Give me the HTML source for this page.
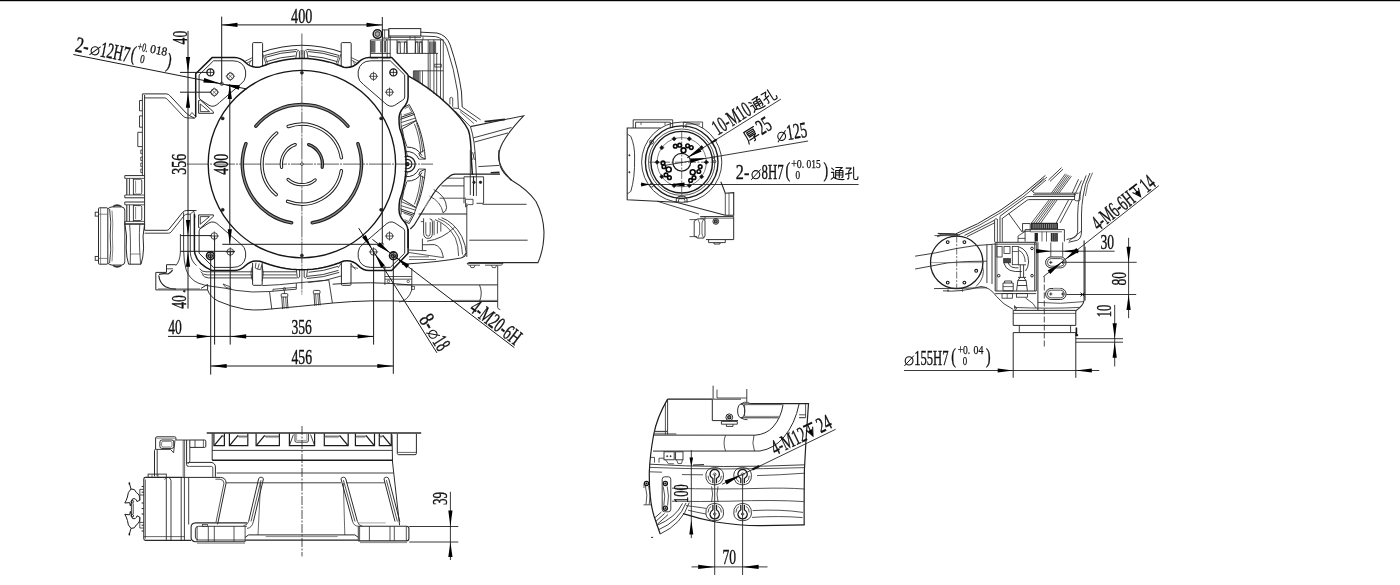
<!DOCTYPE html>
<html><head><meta charset="utf-8"><title>Mounting dimensions</title>
<style>html,body{margin:0;padding:0;background:#fff;}body{width:1400px;height:585px;overflow:hidden;font-family:"Liberation Serif",serif;}svg{display:block;filter:grayscale(1)}</style>
</head><body>
<svg width="1400" height="585" viewBox="0 0 1400 585" shape-rendering="geometricPrecision">
<rect x="0" y="0" width="1400" height="585" fill="#fff"/>
<rect x="0" y="0" width="1400" height="1.2" fill="#000"/>
<defs>
<path id="g_tong" d="M8 12 L22 24 M6 40 L22 40 L22 72 M22 72 Q12 82 4 86 M22 72 Q40 90 96 88 M38 8 L84 8 L66 22 M36 28 L36 74 M36 28 L88 28 L88 68 Q88 74 80 74 M36 43 L88 43 M36 58 L88 58 M62 28 L62 74" fill="none" stroke="#111" stroke-width="8" stroke-linecap="round" stroke-linejoin="round"/>
<path id="g_kong" d="M8 12 L46 12 Q38 24 28 32 M28 32 L28 78 Q28 86 18 84 M4 52 L50 44 M64 6 L64 76 Q64 88 76 88 L88 88 Q96 88 96 70" fill="none" stroke="#111" stroke-width="8" stroke-linecap="round" stroke-linejoin="round"/>
<path id="g_hou" d="M12 8 L94 8 M12 8 L12 50 Q12 76 2 92 M28 20 L82 20 L82 44 L28 44 Z M28 32 L82 32 M30 54 L80 54 Q70 64 58 68 M20 72 L96 72 M58 66 L58 86 Q58 94 46 92" fill="none" stroke="#111" stroke-width="8" stroke-linecap="round" stroke-linejoin="round"/>
</defs>
<path d="M142.4 93.9 L142.4 175.6" fill="none" stroke="#2a2a2a" stroke-width="0.9"/>
<path d="M144.6 95 L144.6 230.2" fill="none" stroke="#2a2a2a" stroke-width="1"/>
<path d="M142.4 93.9 L166.5 93.9 Q168.5 94 169.8 95.6 L186.3 113.2 Q187.8 114.6 189.5 115.6 L194.5 118.2 L195.7 116.8" fill="none" stroke="#2a2a2a" stroke-width="1" stroke-linejoin="round"/>
<path d="M144.6 97.9 L164.8 97.9 Q166.2 98 167.2 99.2 L183.2 116.2 Q184.8 117.8 187 117.9 L194.5 118.2" fill="none" stroke="#2a2a2a" stroke-width="0.9" stroke-linejoin="round"/>
<path d="M189.5 115.6 L192 112.5 L195.7 116.8" fill="none" stroke="#2a2a2a" stroke-width="0.8"/>
<path d="M144.6 230.3 L166.8 230.3 Q168.2 230.2 169.2 229 L182.6 212.4 Q184.3 210.5 186.8 210.5 L196.8 210.5" fill="none" stroke="#2a2a2a" stroke-width="1" stroke-linejoin="round"/>
<path d="M144.6 233.2 L168.6 233.2 Q170.2 233.1 171.2 231.9 L184.2 215.6 Q185.4 214.2 187 214.2 L190 214.2" fill="none" stroke="#2a2a2a" stroke-width="0.9" stroke-linejoin="round"/>
<path d="M190.2 214 L193.8 211.2 L195.2 217.5" fill="none" stroke="#2a2a2a" stroke-width="0.8"/>
<path d="M142.4 100.5 L139.5 100.5 L139.5 110.8 L142.4 110.8" fill="none" stroke="#2a2a2a" stroke-width="0.9"/>
<path d="M142.4 115.9 L139.5 115.9 L139.5 127.2 L142.4 127.2" fill="none" stroke="#2a2a2a" stroke-width="0.9"/>
<path d="M142.4 132.3 L137.8 132.3 L137.8 146.6 L142.4 146.6" fill="none" stroke="#2a2a2a" stroke-width="0.9"/>
<path d="M142.4 150 L140.8 150 L140.8 153.6 L142.4 153.6" fill="none" stroke="#2a2a2a" stroke-width="0.8"/>
<path d="M142.4 157 L140.8 157 L140.8 160.6 L142.4 160.6" fill="none" stroke="#2a2a2a" stroke-width="0.8"/>
<path d="M142.4 163 L140.8 163 L140.8 166.6 L142.4 166.6" fill="none" stroke="#2a2a2a" stroke-width="0.8"/>
<path d="M142.4 169 L140.8 169 L140.8 172.6 L142.4 172.6" fill="none" stroke="#2a2a2a" stroke-width="0.8"/>
<path d="M124.8 175.6 L144.6 175.6" fill="none" stroke="#2a2a2a" stroke-width="1"/>
<path d="M124.8 197.8 L144.6 197.8" fill="none" stroke="#2a2a2a" stroke-width="1"/>
<path d="M124.8 175.6 L124.8 178.4" fill="none" stroke="#2a2a2a" stroke-width="0.9"/>
<path d="M124.8 197.8 L124.8 195" fill="none" stroke="#2a2a2a" stroke-width="0.9"/>
<path d="M124.8 178.4 L144.6 178.4" fill="none" stroke="#2a2a2a" stroke-width="0.8"/>
<path d="M124.8 195 L144.6 195" fill="none" stroke="#2a2a2a" stroke-width="0.8"/>
<path d="M126.8 178.4 L126.8 195" fill="none" stroke="#2a2a2a" stroke-width="1.1"/>
<path d="M129.4 178.4 L129.4 195" fill="none" stroke="#2a2a2a" stroke-width="0.9"/>
<path d="M133.4 178.4 L133.4 195 M133.4 179.2 L140.4 179.2 Q141.8 179.4 141.8 181 L141.8 192.4 Q141.8 194 140.4 194.2 L133.4 194.2" fill="none" stroke="#2a2a2a" stroke-width="0.9"/>
<path d="M135.6 180.6 L135.6 192.8" fill="none" stroke="#555" stroke-width="0.7"/>
<path d="M124.8 202 L144.6 202" fill="none" stroke="#2a2a2a" stroke-width="1"/>
<path d="M124.8 224.2 L144.6 224.2" fill="none" stroke="#2a2a2a" stroke-width="1"/>
<path d="M124.8 202 L124.8 204.8" fill="none" stroke="#2a2a2a" stroke-width="0.9"/>
<path d="M124.8 224.2 L124.8 221.4" fill="none" stroke="#2a2a2a" stroke-width="0.9"/>
<path d="M124.8 204.8 L144.6 204.8" fill="none" stroke="#2a2a2a" stroke-width="0.8"/>
<path d="M124.8 221.4 L144.6 221.4" fill="none" stroke="#2a2a2a" stroke-width="0.8"/>
<path d="M126.8 204.8 L126.8 221.4" fill="none" stroke="#2a2a2a" stroke-width="1.1"/>
<path d="M129.4 204.8 L129.4 221.4" fill="none" stroke="#2a2a2a" stroke-width="0.9"/>
<path d="M133.4 204.8 L133.4 221.4 M133.4 205.6 L140.4 205.6 Q141.8 205.8 141.8 207.4 L141.8 218.8 Q141.8 220.4 140.4 220.6 L133.4 220.6" fill="none" stroke="#2a2a2a" stroke-width="0.9"/>
<path d="M135.6 207 L135.6 219.2" fill="none" stroke="#555" stroke-width="0.7"/>
<rect x="98.5" y="207.8" width="9.3" height="56.4" rx="1" fill="none" stroke="#2a2a2a" stroke-width="1"/>
<path d="M100.6 207.8 L100.6 264.2" fill="none" stroke="#555" stroke-width="0.7"/>
<rect x="95.2" y="212.2" width="3.3" height="3.9" rx="0" fill="none" stroke="#2a2a2a" stroke-width="0.9"/>
<rect x="95.2" y="256.4" width="3.3" height="3.9" rx="0" fill="none" stroke="#2a2a2a" stroke-width="0.9"/>
<path d="M98.5 214.2 L107.8 214.2" fill="none" stroke="#555" stroke-width="0.7"/>
<path d="M98.5 258.4 L107.8 258.4" fill="none" stroke="#555" stroke-width="0.7"/>
<path d="M107.8 208.8 Q110 207 112 206.9 L121.5 206.9 Q124.6 207.2 124.8 210 M107.8 263.2 Q110 265 112 265.1 L121.5 265.1 Q124.6 264.8 124.8 262" fill="none" stroke="#2a2a2a" stroke-width="1"/>
<path d="M109.6 209 Q111.6 222 110.2 236 Q111.6 250 109.6 263" fill="none" stroke="#2a2a2a" stroke-width="0.9"/>
<path d="M112 210.6 Q113.4 224 112.4 236 Q113.4 249 112 261.4" fill="none" stroke="#555" stroke-width="0.7"/>
<path d="M124.8 210 L124.8 262" fill="none" stroke="#2a2a2a" stroke-width="0.9"/>
<path d="M113 206.6 Q117 203.6 121.5 206.6" fill="none" stroke="#333" stroke-width="1.6"/>
<path d="M113 265.4 Q117 268.4 121.5 265.4" fill="none" stroke="#333" stroke-width="1.6"/>
<path d="M124.8 223.8 Q127.6 236 126.2 248 Q126.4 258 128.6 264.2 L141 264.2 Q143.2 258 143.6 248 Q142 236 144.6 224.2" fill="none" stroke="#2a2a2a" stroke-width="1"/>
<path d="M129.6 224.2 Q131 240 130.2 264.2 M139.8 224.2 Q138.6 240 140.6 264.2" fill="none" stroke="#2a2a2a" stroke-width="0.8"/>
<path d="M130.2 254 L140.4 254" fill="none" stroke="#555" stroke-width="0.7"/>
<path d="M124.8 223.8 L144.6 223.8" fill="none" stroke="#2a2a2a" stroke-width="0.9"/>
<path d="M190.3 214 L190.3 253 Q191 261 196.5 265.6" fill="none" stroke="#2a2a2a" stroke-width="0.9"/>
<path d="M196.3 120 L196.3 214" fill="none" stroke="#fff" stroke-width="0.5"/>
<circle cx="377.5" cy="34.1" r="4.3" fill="none" stroke="#1c1c1c" stroke-width="1.6"/>
<circle cx="377.5" cy="34.1" r="2.4" fill="#a8a8a8" stroke="#555" stroke-width="1.2"/>
<rect x="382.6" y="29.9" width="6.2" height="8.2" rx="0" fill="none" stroke="#2a2a2a" stroke-width="0.9"/>
<path d="M384.6 29.9 L384.6 38.1" fill="none" stroke="#2a2a2a" stroke-width="0.7"/>
<rect x="388.8" y="28.6" width="32" height="7.4" rx="0" fill="none" stroke="#2a2a2a" stroke-width="1"/>
<path d="M388.8 37.4 L421 37.4" fill="none" stroke="#2a2a2a" stroke-width="0.8"/>
<path d="M386 39.8 L443.3 39.8" fill="none" stroke="#2a2a2a" stroke-width="0.9"/>
<path d="M410 36 L410 39.8" fill="none" stroke="#2a2a2a" stroke-width="0.7"/>
<path d="M415 36 L415 39.8" fill="none" stroke="#2a2a2a" stroke-width="0.7"/>
<path d="M423 36.3 L423 39.8" fill="none" stroke="#2a2a2a" stroke-width="0.7"/>
<path d="M370.4 40 L387 40" fill="none" stroke="#2a2a2a" stroke-width="0.9"/>
<path d="M370.4 40 L370.4 58" fill="none" stroke="#2a2a2a" stroke-width="0.9"/>
<path d="M370.4 53.4 L390.2 53.4" fill="none" stroke="#2a2a2a" stroke-width="0.9"/>
<path d="M397 53.4 L438 53.4" fill="none" stroke="#2a2a2a" stroke-width="0.9"/>
<path d="M390.2 36 L390.2 58" fill="none" stroke="#2a2a2a" stroke-width="0.9"/>
<path d="M397 39.8 L397 53.4" fill="none" stroke="#2a2a2a" stroke-width="0.9"/>
<path d="M387.2 39.8 L387.2 58" fill="none" stroke="#2a2a2a" stroke-width="0.8"/>
<path d="M371.3 41 L371.3 52.5" fill="none" stroke="#222" stroke-width="0.8"/>
<path d="M372.2 41 L372.2 52.5" fill="none" stroke="#222" stroke-width="0.8"/>
<path d="M373.1 41 L373.1 52.5" fill="none" stroke="#222" stroke-width="0.8"/>
<path d="M374 41 L374 52.5" fill="none" stroke="#222" stroke-width="0.8"/>
<path d="M374.9 41 L374.9 52.5" fill="none" stroke="#222" stroke-width="0.8"/>
<path d="M380.8 41 L380.8 52.5" fill="none" stroke="#222" stroke-width="0.8"/>
<path d="M382 41 L382 52.5" fill="none" stroke="#222" stroke-width="0.8"/>
<path d="M384.3 41 L384.3 52.5" fill="none" stroke="#222" stroke-width="0.8"/>
<path d="M385.5 41 L385.5 52.5" fill="none" stroke="#222" stroke-width="0.8"/>
<path d="M397.6 53.4 L397.9 42 L400.1 42 L400.4 53.4" fill="none" stroke="#2a2a2a" stroke-width="0.9"/>
<path d="M404.2 53.4 L404.5 42 L406.7 42 L407 53.4" fill="none" stroke="#2a2a2a" stroke-width="0.9"/>
<path d="M415.3 53.4 L415.6 42 L417.8 42 L418.1 53.4" fill="none" stroke="#2a2a2a" stroke-width="0.9"/>
<path d="M419.4 53.4 L419.7 42 L421.9 42 L422.2 53.4" fill="none" stroke="#2a2a2a" stroke-width="0.9"/>
<path d="M397 42 L407 42" fill="none" stroke="#2a2a2a" stroke-width="0.7"/>
<path d="M415.3 42 L422.2 42" fill="none" stroke="#2a2a2a" stroke-width="0.7"/>
<path d="M407 39.8 L407 53.4" fill="none" stroke="#2a2a2a" stroke-width="0.9"/>
<path d="M415.3 39.8 L415.3 53.4" fill="none" stroke="#2a2a2a" stroke-width="0.8"/>
<path d="M422.2 39.8 L422.2 53.4" fill="none" stroke="#2a2a2a" stroke-width="0.9"/>
<path d="M429.6 41.5 L429.6 53" fill="none" stroke="#222" stroke-width="0.8"/>
<path d="M430.8 41.5 L430.8 53" fill="none" stroke="#222" stroke-width="0.8"/>
<path d="M432 41.5 L432 53" fill="none" stroke="#222" stroke-width="0.8"/>
<path d="M433.2 41.5 L433.2 53" fill="none" stroke="#222" stroke-width="0.8"/>
<path d="M434.4 41.5 L434.4 53" fill="none" stroke="#222" stroke-width="0.8"/>
<path d="M435.6 41.5 L435.6 53" fill="none" stroke="#222" stroke-width="0.8"/>
<path d="M428.2 39.8 L428.2 89.5" fill="none" stroke="#2a2a2a" stroke-width="0.8"/>
<path d="M430.1 53.4 L430.1 91" fill="none" stroke="#2a2a2a" stroke-width="0.8"/>
<path d="M433.9 39.8 L433.9 94" fill="none" stroke="#2a2a2a" stroke-width="0.8"/>
<path d="M436.7 53.4 L436.7 96" fill="none" stroke="#2a2a2a" stroke-width="0.8"/>
<path d="M440.5 39.8 L440.5 99" fill="none" stroke="#2a2a2a" stroke-width="0.8"/>
<path d="M443.3 39.8 L443.3 101.3" fill="none" stroke="#2a2a2a" stroke-width="0.8"/>
<path d="M413.2 70.8 L443.3 70.8" fill="none" stroke="#2a2a2a" stroke-width="0.8"/>
<rect x="434.8" y="64.2" width="6.4" height="2.8" rx="0" fill="none" stroke="#2a2a2a" stroke-width="0.8"/>
<path d="M413.4 71 L413.4 78.5" fill="none" stroke="#222" stroke-width="0.8"/>
<path d="M414.3 71 L414.3 79.2" fill="none" stroke="#222" stroke-width="0.8"/>
<path d="M415.2 71 L415.2 79.8" fill="none" stroke="#222" stroke-width="0.8"/>
<path d="M416.1 71 L416.1 80.5" fill="none" stroke="#222" stroke-width="0.8"/>
<path d="M417 71 L417 81.1" fill="none" stroke="#222" stroke-width="0.8"/>
<path d="M417.9 71 L417.9 81.8" fill="none" stroke="#222" stroke-width="0.8"/>
<path d="M418.8 71 L418.8 82.4" fill="none" stroke="#222" stroke-width="0.8"/>
<path d="M420 70.8 L420 83.6" fill="none" stroke="#2a2a2a" stroke-width="0.7"/>
<path d="M422.5 70.8 L422.5 85.4" fill="none" stroke="#2a2a2a" stroke-width="0.7"/>
<path d="M370.4 58 L378 58" fill="none" stroke="#2a2a2a" stroke-width="0.8"/>
<path d="M383 58 L390.5 58" fill="none" stroke="#2a2a2a" stroke-width="0.8"/>
<path d="M420.8 32.2 L437 33 Q446.5 35 450.2 45 Q458.5 70 461.5 92 L462.2 107" fill="none" stroke="#2a2a2a" stroke-width="1"/>
<path d="M420.8 36 L435.5 36.6 Q443.5 38 446.6 46.5 Q454.5 70 457.6 92 L458.4 108.5" fill="none" stroke="#2a2a2a" stroke-width="0.9"/>
<path d="M408.2 75.8 Q431 88 449 105.8 Q463 119.5 468.3 130 Q471 137 471.3 158.5 L472.4 175" fill="none" stroke="#1c1c1c" stroke-width="1.5"/>
<path d="M470.5 126.8 Q475 140 475.8 165 L476.4 176" fill="none" stroke="#2a2a2a" stroke-width="0.9"/>
<path d="M449.9 104.5 L449.9 98 Q451.3 96.6 452.7 98 L452.7 106.8" fill="none" stroke="#2a2a2a" stroke-width="0.8"/>
<path d="M458.4 108.5 L477 121.5" fill="none" stroke="#2a2a2a" stroke-width="0.9"/>
<path d="M462.2 107 L480.6 119.8" fill="none" stroke="#2a2a2a" stroke-width="0.9"/>
<path d="M455 110.8 L470.4 126.6" fill="none" stroke="#2a2a2a" stroke-width="0.9"/>
<path d="M460 111.5 L474 123.6" fill="none" stroke="#2a2a2a" stroke-width="0.7"/>
<path d="M452.8 108 L458.4 108.5" fill="none" stroke="#2a2a2a" stroke-width="0.8"/>
<path d="M470.4 126.6 L523.6 115.8 Q509 131 502.5 143 Q497.5 153 498.9 160 Q500.5 169 511.5 180.5" fill="none" stroke="#2a2a2a" stroke-width="1.1"/>
<path d="M473.3 137.9 L511.5 127.5" fill="none" stroke="#2a2a2a" stroke-width="0.9"/>
<path d="M474.3 142.1 L508 132.9" fill="none" stroke="#2a2a2a" stroke-width="0.9"/>
<path d="M484.6 121.6 L505 119.4" fill="none" stroke="#222" stroke-width="1.8"/>
<path d="M478.4 166.6 L499.2 165.4" fill="none" stroke="#2a2a2a" stroke-width="0.9"/>
<path d="M490.7 172.8 L499.5 172.4" fill="none" stroke="#222" stroke-width="1.6"/>
<path d="M472.2 152 L473.6 156 L472.6 160 M474.6 152 L473.4 156 L474.8 160" fill="none" stroke="#2a2a2a" stroke-width="0.7"/>
<path d="M499 150 Q498.5 160 500.4 166.5 Q503 173.5 512 180.5 Q528 190 536 201.5 Q543.5 216 544 232 Q544 249 538 262.6 L468.4 262.6" fill="none" stroke="#2a2a2a" stroke-width="1.1"/>
<path d="M482.5 204.3 L526.6 204.3" fill="none" stroke="#2a2a2a" stroke-width="0.9"/>
<path d="M469.2 240.2 L527.6 240.2" fill="none" stroke="#2a2a2a" stroke-width="0.9"/>
<path d="M500 174.2 L455 174.2 Q452 174.4 450 176 L443.2 181.9 Q437 188 433.8 193.2 Q428 202 424.4 208.2 L414.1 225.2 L410.3 229" fill="none" stroke="#222" stroke-width="1.2"/>
<path d="M446.5 178.2 L464 178.2" fill="none" stroke="#2a2a2a" stroke-width="0.8"/>
<path d="M441.5 185.9 L464 185.9" fill="none" stroke="#2a2a2a" stroke-width="0.9"/>
<path d="M439.5 198.2 L466 198.2" fill="none" stroke="#2a2a2a" stroke-width="0.8"/>
<path d="M464 176.8 L464 203.3 M483.6 176.8 L483.6 203.3 L476.5 203.3" fill="none" stroke="#2a2a2a" stroke-width="0.9"/>
<path d="M464 176.8 L483.6 176.8" fill="none" stroke="#2a2a2a" stroke-width="0.9"/>
<circle cx="474" cy="182.3" r="1.2" fill="#222" stroke="#222" stroke-width="0.8"/>
<circle cx="480.5" cy="182.3" r="1.2" fill="#222" stroke="#222" stroke-width="0.8"/>
<path d="M470.3 150 L470.3 195" fill="none" stroke="#2a2a2a" stroke-width="0.9"/>
<path d="M473.5 176 L473.5 196" fill="none" stroke="#222" stroke-width="1.1"/>
<path d="M476.4 176 L476.4 196" fill="none" stroke="#2a2a2a" stroke-width="0.8"/>
<path d="M465.5 199.3 L473 199.3 L473 204.6 L468.2 204.6 L465.5 207 Z" fill="none" stroke="#2a2a2a" stroke-width="0.8"/>
<path d="M466.8 203.3 L466.8 257" fill="none" stroke="#2a2a2a" stroke-width="0.9"/>
<path d="M418.6 214 L466.8 214" fill="none" stroke="#222" stroke-width="1.2"/>
<path d="M441.5 217.7 Q454 222 461.8 236.5 Q466 246 466.2 253 Q466 257 462 257.8" fill="none" stroke="#2a2a2a" stroke-width="0.9"/>
<path d="M438 218.6 Q451 223 458.6 237 Q462.5 246 462.5 254.5" fill="none" stroke="#2a2a2a" stroke-width="0.8"/>
<path d="M435 219.6 Q448 224.5 455.4 238 Q458.6 246 458.6 256" fill="none" stroke="#2a2a2a" stroke-width="0.8"/>
<path d="M423.6 218.3 L423.6 233.6 Q424.1 238.4 428.1 238.4 Q432.1 238.4 432.4 233.6 L432.4 221.6 Q432.4 219.0 429.6 218.8" fill="none" stroke="#2a2a2a" stroke-width="0.9"/>
<path d="M425.8 222.2 L425.8 233.6 Q426.2 236.2 428.1 236.2 Q430.2 236.2 430.2 233.6 L430.2 222.2" fill="none" stroke="#2a2a2a" stroke-width="0.8"/>
<path d="M434.1 220.6 L434.1 235.2" fill="none" stroke="#2a2a2a" stroke-width="0.8"/>
<path d="M437.4 221.6 L437.4 233.6" fill="none" stroke="#2a2a2a" stroke-width="0.8"/>
<path d="M440.8 223 L440.8 231.6" fill="none" stroke="#2a2a2a" stroke-width="0.8"/>
<path d="M427.1 241.2 Q442.6 239.1 454.6 227.2" fill="none" stroke="#2a2a2a" stroke-width="0.9"/>
<path d="M420.8 221.6 L423.6 221.6" fill="none" stroke="#2a2a2a" stroke-width="0.8"/>
<path d="M422.4 238.6 L422.4 250.6 L426.5 250.6 M422.4 244.8 L434.5 244.6 Q440.8 246.5 442.6 254.2 L443.4 257.6" fill="none" stroke="#2a2a2a" stroke-width="0.9"/>
<path d="M408.8 252.5 L443.4 257.6 M409 250 L422.4 250.6" fill="none" stroke="#2a2a2a" stroke-width="0.8"/>
<path d="M402 264.3 Q440 262 462 257.8 L466.2 253" fill="none" stroke="#2a2a2a" stroke-width="1"/>
<path d="M409 256.8 L429 256.8" fill="none" stroke="#2a2a2a" stroke-width="0.7"/>
<path d="M409 259.5 L436 259.5" fill="none" stroke="#2a2a2a" stroke-width="0.7"/>
<path d="M433.6 189.5 Q446 196 446.6 207.6 Q446.4 211.6 443 212.8" fill="none" stroke="#2a2a2a" stroke-width="0.9"/>
<path d="M429.6 196.2 Q441 201.5 443 212.8" fill="none" stroke="#2a2a2a" stroke-width="0.8"/>
<path d="M424.4 208.5 Q429 201 433.6 189.5" fill="none" stroke="#fff" stroke-width="0.5"/>
<path d="M252.6 66.2 L252.6 43.6 Q252.6 42.6 253.6 42.6 L261.6 42.6 Q262.6 42.6 262.6 43.6 L262.6 66.4" fill="#fff" stroke="#2a2a2a" stroke-width="1"/>
<path d="M341.2 66.2 L341.2 43.6 Q341.2 42.6 342.2 42.6 L350.2 42.6 Q351.2 42.6 351.2 43.6 L351.2 66.4" fill="#fff" stroke="#2a2a2a" stroke-width="1"/>
<path d="M262.8 52.1 A118.6 118.6 0 0 1 341 52.1" fill="none" stroke="#2a2a2a" stroke-width="1.1"/>
<path d="M264.9 55.4 A114.8 114.8 0 0 1 297.3 49.4" fill="none" stroke="#2a2a2a" stroke-width="0.9"/>
<path d="M265.9 57.2 A112.8 112.8 0 0 1 296 51.5" fill="none" stroke="#2a2a2a" stroke-width="0.9"/>
<path d="M266.3 61.7 A108.4 108.4 0 0 1 295.3 55.9" fill="none" stroke="#2a2a2a" stroke-width="0.9"/>
<path d="M295.7 58.9 L296.9 51.5 L298.2 50.3 L299.4 51.2 L299.4 58.9" fill="none" stroke="#2a2a2a" stroke-width="0.9"/>
<path d="M262.8 54 L266.5 65.5" fill="none" stroke="#2a2a2a" stroke-width="0.8"/>
<path d="M264.6 55 L267.6 63.5" fill="none" stroke="#2a2a2a" stroke-width="0.7"/>
<path d="M244.5 61.5 L252.6 57.5" fill="none" stroke="#2a2a2a" stroke-width="0.8"/>
<path d="M247 63 L252.6 60" fill="none" stroke="#2a2a2a" stroke-width="0.7"/>
<path d="M249.2 64.8 L250.5 60.8" fill="none" stroke="#2a2a2a" stroke-width="0.7"/>
<path d="M338.9 55.4 A114.8 114.8 0 0 0 306.5 49.4" fill="none" stroke="#2a2a2a" stroke-width="0.9"/>
<path d="M337.9 57.2 A112.8 112.8 0 0 0 307.8 51.5" fill="none" stroke="#2a2a2a" stroke-width="0.9"/>
<path d="M337.5 61.7 A108.4 108.4 0 0 0 308.5 55.9" fill="none" stroke="#2a2a2a" stroke-width="0.9"/>
<path d="M308.1 58.9 L306.9 51.5 L305.6 50.3 L304.4 51.2 L304.4 58.9" fill="none" stroke="#2a2a2a" stroke-width="0.9"/>
<path d="M341 54 L337.3 65.5" fill="none" stroke="#2a2a2a" stroke-width="0.8"/>
<path d="M339.2 55 L336.2 63.5" fill="none" stroke="#2a2a2a" stroke-width="0.7"/>
<path d="M359.3 61.5 L351.2 57.5" fill="none" stroke="#2a2a2a" stroke-width="0.8"/>
<path d="M356.8 63 L351.2 60" fill="none" stroke="#2a2a2a" stroke-width="0.7"/>
<path d="M354.6 64.8 L353.3 60.8" fill="none" stroke="#2a2a2a" stroke-width="0.7"/>
<rect x="300.5" y="50" width="3.2" height="9" rx="0" fill="#9a9a9a" stroke="#161616" stroke-width="0"/>
<path d="M401.2 113.5 Q400.2 124 402.4 134 Q405 146 407.4 156" fill="none" stroke="#2a2a2a" stroke-width="0.8"/>
<path d="M402.8 107.8 L409.2 104.6 L413.7 112.9 L400.9 117.4" fill="none" stroke="#2a2a2a" stroke-width="1" stroke-linejoin="round"/>
<path d="M404.6 108.6 L408.6 106.6 L411.8 112.2 L403.6 115" fill="none" stroke="#2a2a2a" stroke-width="0.7" stroke-linejoin="round"/>
<path d="M400.3 119.4 L415 114.2" fill="none" stroke="#2a2a2a" stroke-width="1"/>
<path d="M400.9 122.6 L415.6 118" fill="none" stroke="#2a2a2a" stroke-width="0.8"/>
<path d="M401.5 126.4 L416.2 120.4" fill="none" stroke="#2a2a2a" stroke-width="0.8"/>
<path d="M413.7 112.9 L416.3 120.6" fill="none" stroke="#2a2a2a" stroke-width="0.9"/>
<path d="M402.2 129 L416.3 120.6 Q422 133 424.6 151.4 L425.3 159.1 L420.1 156.5 L418.8 153.3" fill="none" stroke="#2a2a2a" stroke-width="1" stroke-linejoin="round"/>
<path d="M414.4 123.8 Q419.5 136 420.8 152.7 M416.4 122.6 Q421 135 422.8 152.4" fill="none" stroke="#2a2a2a" stroke-width="0.8"/>
<path d="M402.2 129 Q403.5 138 406.7 146.3" fill="none" stroke="#2a2a2a" stroke-width="0.9"/>
<path d="M418.8 153.3 L424.4 150.4" fill="none" stroke="#2a2a2a" stroke-width="0.8"/>
<path d="M406.7 147.1 A17 17 0 0 1 422 155.6" fill="none" stroke="#2a2a2a" stroke-width="1"/>
<path d="M405.1 151.7 A12.6 12.6 0 0 1 419 159.4" fill="none" stroke="#2a2a2a" stroke-width="1"/>
<path d="M404.6 156.8 A7.8 7.8 0 0 1 415.1 164.1" fill="none" stroke="#222" stroke-width="1.3"/>
<path d="M405 160.1 A4.6 4.6 0 0 1 411.9 164.1" fill="none" stroke="#222" stroke-width="1.2"/>
<path d="M419.2 159.2 L425.3 159.1" fill="none" stroke="#2a2a2a" stroke-width="0.8"/>
<path d="M401.2 214.7 Q400.2 204.2 402.4 194.2 Q405 182.2 407.4 172.2" fill="none" stroke="#2a2a2a" stroke-width="0.8"/>
<path d="M402.8 220.4 L409.2 223.6 L413.7 215.3 L400.9 210.8" fill="none" stroke="#2a2a2a" stroke-width="1" stroke-linejoin="round"/>
<path d="M404.6 219.6 L408.6 221.6 L411.8 216 L403.6 213.2" fill="none" stroke="#2a2a2a" stroke-width="0.7" stroke-linejoin="round"/>
<path d="M400.3 208.8 L415 214" fill="none" stroke="#2a2a2a" stroke-width="1"/>
<path d="M400.9 205.6 L415.6 210.2" fill="none" stroke="#2a2a2a" stroke-width="0.8"/>
<path d="M401.5 201.8 L416.2 207.8" fill="none" stroke="#2a2a2a" stroke-width="0.8"/>
<path d="M413.7 215.3 L416.3 207.6" fill="none" stroke="#2a2a2a" stroke-width="0.9"/>
<path d="M402.2 199.2 L416.3 207.6 Q422 195.2 424.6 176.8 L425.3 169.1 L420.1 171.7 L418.8 174.9" fill="none" stroke="#2a2a2a" stroke-width="1" stroke-linejoin="round"/>
<path d="M414.4 204.4 Q419.5 192.2 420.8 175.5 M416.4 205.6 Q421 193.2 422.8 175.8" fill="none" stroke="#2a2a2a" stroke-width="0.8"/>
<path d="M402.2 199.2 Q403.5 190.2 406.7 181.9" fill="none" stroke="#2a2a2a" stroke-width="0.9"/>
<path d="M418.8 174.9 L424.4 177.8" fill="none" stroke="#2a2a2a" stroke-width="0.8"/>
<path d="M406.7 181.1 A17 17 0 0 0 422 172.6" fill="none" stroke="#2a2a2a" stroke-width="1"/>
<path d="M405.1 176.5 A12.6 12.6 0 0 0 419 168.8" fill="none" stroke="#2a2a2a" stroke-width="1"/>
<path d="M404.6 171.4 A7.8 7.8 0 0 0 415.1 164.1" fill="none" stroke="#222" stroke-width="1.3"/>
<path d="M405 168.1 A4.6 4.6 0 0 0 411.9 164.1" fill="none" stroke="#222" stroke-width="1.2"/>
<path d="M419.2 169 L425.3 169.1" fill="none" stroke="#2a2a2a" stroke-width="0.8"/>
<circle cx="407.3" cy="164.1" r="1.6" fill="#444" stroke="#111" stroke-width="1.2"/>
<path d="M252.6 263 L252.6 284.3 Q252.6 285.3 253.6 285.3 L261.2 285.3 Q262.2 285.3 262.2 284.3 L262.2 263" fill="#fff" stroke="#2a2a2a" stroke-width="1"/>
<path d="M341.4 263 L341.4 284.3 Q341.4 285.3 342.4 285.3 L350 285.3 Q351 285.3 351 284.3 L351 263" fill="#fff" stroke="#2a2a2a" stroke-width="1"/>
<path d="M341.5 275.9 A118.6 118.6 0 0 1 308.1 282.5" fill="none" stroke="#2a2a2a" stroke-width="0.9"/>
<path d="M339.2 272.4 A114.5 114.5 0 0 1 306.9 278.5" fill="none" stroke="#2a2a2a" stroke-width="0.9"/>
<path d="M338.5 270.4 A112.4 112.4 0 0 1 306.8 276.4" fill="none" stroke="#2a2a2a" stroke-width="0.9"/>
<path d="M338.1 266.3 A108.4 108.4 0 0 1 308.5 272.3" fill="none" stroke="#2a2a2a" stroke-width="0.9"/>
<path d="M296.3 269.5 L297.2 276.5 L298.4 278 L299.6 277 L299.6 269.5" fill="none" stroke="#2a2a2a" stroke-width="0.9"/>
<path d="M307.5 269.5 L306.6 276.5 L305.4 278 L304.2 277 L304.2 269.5" fill="none" stroke="#2a2a2a" stroke-width="0.9"/>
<path d="M199.6 268.6 Q201.5 271.8 206 271.8 L252.6 271.8" fill="none" stroke="#2a2a2a" stroke-width="0.9"/>
<path d="M262.2 271.8 L296.3 271.8" fill="none" stroke="#2a2a2a" stroke-width="0.9"/>
<path d="M200.6 271.6 Q203 274.9 207 274.9 L252.6 274.9" fill="none" stroke="#2a2a2a" stroke-width="0.8"/>
<path d="M262.2 274.9 L296.3 274.9" fill="none" stroke="#2a2a2a" stroke-width="0.8"/>
<path d="M201.8 274.2 Q204.5 277.9 208.5 277.9 L252.6 277.9" fill="none" stroke="#2a2a2a" stroke-width="0.9"/>
<path d="M262.2 277.9 L297.5 277.9" fill="none" stroke="#2a2a2a" stroke-width="0.9"/>
<path d="M252.6 266 Q249.5 273 252.6 281" fill="none" stroke="#2a2a2a" stroke-width="0.9"/>
<path d="M262.2 266 Q264.5 273 262.2 281" fill="none" stroke="#2a2a2a" stroke-width="0.8"/>
<path d="M256 262.6 L255.2 268 L257.6 269.2 L259.3 263.5" fill="none" stroke="#2a2a2a" stroke-width="0.8"/>
<path d="M257.6 269.2 L260.6 269.6 L261.8 264.4" fill="none" stroke="#2a2a2a" stroke-width="0.8"/>
<path d="M338 268 L341.4 263" fill="none" stroke="#2a2a2a" stroke-width="0.8"/>
<path d="M351 264 L355.5 269.5" fill="none" stroke="#2a2a2a" stroke-width="0.8"/>
<path d="M351 266.5 L358 268.5" fill="none" stroke="#2a2a2a" stroke-width="0.7"/>
<path d="M207.6 289.9 Q210 297 218 301 Q230 306.5 245 309.3 Q254 310.4 262 309.8 Q300 306.5 333 303 Q370 299.5 410 301.5 L497.7 301.5" fill="none" stroke="#2a2a2a" stroke-width="1"/>
<path d="M451 300.4 L497.7 300.4" fill="none" stroke="#555" stroke-width="0.8"/>
<path d="M183.6 212.4 L183.6 250 Q183.8 262 186.2 270 Q189.5 279 198 283 Q204 285.4 212 286.4 Q226 288 236 290.4 Q252 293 269.5 291.5" fill="none" stroke="#2a2a2a" stroke-width="0.9"/>
<path d="M180.4 234 L180.4 252 Q180 261 175.8 265.6" fill="none" stroke="#2a2a2a" stroke-width="0.9"/>
<path d="M332.6 284.2 Q370 281 410 284.9 L497.7 284.9" fill="none" stroke="#2a2a2a" stroke-width="1"/>
<path d="M262.2 285.6 Q280 285 296.3 283" fill="none" stroke="#2a2a2a" stroke-width="0.9"/>
<path d="M223 284 L229.6 286.6 L231 288.6 L226 287.6 Z" fill="none" stroke="#2a2a2a" stroke-width="0.8"/>
<path d="M269.5 291.5 L296.3 289.2 L296.3 283 L328.8 280 L332.4 303" fill="none" stroke="#2a2a2a" stroke-width="0.9"/>
<path d="M269.5 291.5 L271.8 309.3" fill="none" stroke="#2a2a2a" stroke-width="0.9"/>
<path d="M273 289.3 L273 291.2" fill="none" stroke="#2a2a2a" stroke-width="0.8"/>
<path d="M273 289.3 L296.3 287.3" fill="none" stroke="#2a2a2a" stroke-width="0.8"/>
<rect x="281.2" y="293.6" width="6.6" height="3.4" rx="1" fill="none" stroke="#2a2a2a" stroke-width="0.9"/>
<path d="M281.8 297 L282.6 309.1" fill="none" stroke="#2a2a2a" stroke-width="0.9"/>
<path d="M287.2 297 L288 308.6" fill="none" stroke="#2a2a2a" stroke-width="0.9"/>
<path d="M283.4 297 L284.2 308.9" fill="none" stroke="#2a2a2a" stroke-width="0.7"/>
<path d="M285.6 297 L286.4 308.7" fill="none" stroke="#2a2a2a" stroke-width="0.7"/>
<rect x="313.4" y="290.4" width="6.6" height="3.4" rx="1" fill="none" stroke="#2a2a2a" stroke-width="0.9"/>
<path d="M314 293.8 L314.8 305.9" fill="none" stroke="#2a2a2a" stroke-width="0.9"/>
<path d="M319.4 293.8 L320.2 305.4" fill="none" stroke="#2a2a2a" stroke-width="0.9"/>
<path d="M315.6 293.8 L316.4 305.7" fill="none" stroke="#2a2a2a" stroke-width="0.7"/>
<path d="M317.8 293.8 L318.6 305.5" fill="none" stroke="#2a2a2a" stroke-width="0.7"/>
<circle cx="284.4" cy="288.8" r="1.2" fill="none" stroke="#2a2a2a" stroke-width="0.8"/>
<path d="M284.4 290 L284.4 293.6" fill="none" stroke="#2a2a2a" stroke-width="0.8"/>
<path d="M497.7 265.6 L497.7 307.5" fill="none" stroke="#2a2a2a" stroke-width="0.9"/>
<path d="M497.7 307.5 Q498 309.5 500.3 309.6" fill="none" stroke="#2a2a2a" stroke-width="0.8"/>
<path d="M479.5 284.9 Q483 293 479.5 301.5" fill="none" stroke="#2a2a2a" stroke-width="0.9"/>
<path d="M467 263.3 L503 263.3" fill="none" stroke="#2a2a2a" stroke-width="1"/>
<path d="M467 263.3 L468.5 265.2 L480 265.2" fill="none" stroke="#2a2a2a" stroke-width="0.8"/>
<path d="M485 265.2 L501.5 265.2 L503 263.3" fill="none" stroke="#2a2a2a" stroke-width="0.8"/>
<path d="M470 265.2 L471 267.6 L474 267.6 L475 265.2" fill="none" stroke="#2a2a2a" stroke-width="0.8"/>
<path d="M491.5 265.2 L492.5 267.6 L495.5 267.6 L496.5 265.2" fill="none" stroke="#2a2a2a" stroke-width="0.8"/>
<path d="M384.9 266 L384.9 284.9" fill="none" stroke="#2a2a2a" stroke-width="0.9"/>
<path d="M411.8 268 L411.8 284.9" fill="none" stroke="#2a2a2a" stroke-width="0.9"/>
<path d="M384.9 276.5 L411.8 276.5" fill="none" stroke="#2a2a2a" stroke-width="0.8"/>
<path d="M384.9 279.2 L411.8 279.2" fill="none" stroke="#2a2a2a" stroke-width="0.8"/>
<circle cx="388.5" cy="281.4" r="1.2" fill="none" stroke="#2a2a2a" stroke-width="0.7"/>
<circle cx="408.2" cy="281.4" r="1.2" fill="none" stroke="#2a2a2a" stroke-width="0.7"/>
<path d="M396.5 284.9 L411.8 284.9 L411.8 290 Q408 301 399 302" fill="none" stroke="#2a2a2a" stroke-width="0.9"/>
<rect x="411.5" y="286.3" width="3" height="3" rx="0" fill="none" stroke="#2a2a2a" stroke-width="0.7"/>
<path d="M155.8 272.4 L166.5 272.4 L166.5 264.7 L175.8 264.7 M155.8 272.4 L155.8 289.9 L207.6 289.9 L207.6 284.4 L201 288.4" fill="none" stroke="#2a2a2a" stroke-width="1"/>
<path d="M166.5 268.8 L173 268.8" fill="none" stroke="#2a2a2a" stroke-width="0.8"/>
<path d="M158.8 275.5 Q159.5 283 165.5 286.8 Q170 289 176 289.2" fill="none" stroke="#222" stroke-width="1.2"/>
<path d="M159 274.4 Q164 273.2 168 274 Q171 272.5 172.6 270.2" fill="none" stroke="#222" stroke-width="1.2"/>
<path d="M158 288.8 L200 288.8" fill="none" stroke="#555" stroke-width="0.7"/>
<circle cx="184.3" cy="291.2" r="0.9" fill="#2a2a2a" stroke="#2a2a2a" stroke-width="0.8"/>
<circle cx="301.9" cy="164.1" r="93.7" fill="none" stroke="#161616" stroke-width="1.35"/>
<circle cx="381.1" cy="118.4" r="1.5" fill="#222" stroke="#161616" stroke-width="0.6"/>
<circle cx="301.9" cy="72.7" r="1.5" fill="#222" stroke="#161616" stroke-width="0.6"/>
<circle cx="222.7" cy="118.4" r="1.5" fill="#222" stroke="#161616" stroke-width="0.6"/>
<circle cx="222.7" cy="209.8" r="1.5" fill="#222" stroke="#161616" stroke-width="0.6"/>
<circle cx="301.9" cy="255.5" r="1.5" fill="#222" stroke="#161616" stroke-width="0.6"/>
<circle cx="381.1" cy="209.8" r="1.5" fill="#222" stroke="#161616" stroke-width="0.6"/>
<path d="M187 164.1 L433 164.1" fill="none" stroke="#333" stroke-width="0.8" stroke-dasharray="22 1 2 1"/>
<path d="M301.9 33.5 L301.9 294.6" fill="none" stroke="#333" stroke-width="0.8" stroke-dasharray="22 1 2 1"/>
<circle cx="301.9" cy="164.1" r="1.3" fill="#fff" stroke="#161616" stroke-width="0.8"/>
<path d="M347.9 126.2 A59.6 59.6 0 0 0 255.9 126.2" fill="none" stroke="#1e1e1e" stroke-width="3.5" stroke-linecap="round"/>
<path d="M347.9 126.2 A59.6 59.6 0 0 0 255.9 126.2" fill="none" stroke="#8a8a8a" stroke-width="1.2999999999999998" stroke-linecap="round"/>
<path d="M245.9 143.7 A59.6 59.6 0 0 0 291.6 222.8" fill="none" stroke="#1e1e1e" stroke-width="3.5" stroke-linecap="round"/>
<path d="M245.9 143.7 A59.6 59.6 0 0 0 291.6 222.8" fill="none" stroke="#8a8a8a" stroke-width="1.2999999999999998" stroke-linecap="round"/>
<path d="M312.2 222.8 A59.6 59.6 0 0 0 357.9 143.7" fill="none" stroke="#1e1e1e" stroke-width="3.5" stroke-linecap="round"/>
<path d="M312.2 222.8 A59.6 59.6 0 0 0 357.9 143.7" fill="none" stroke="#8a8a8a" stroke-width="1.2999999999999998" stroke-linecap="round"/>
<path d="M341.4 157.8 A40 40 0 0 0 288.2 126.5" fill="none" stroke="#1e1e1e" stroke-width="3.5" stroke-linecap="round"/>
<path d="M341.4 157.8 A40 40 0 0 0 288.2 126.5" fill="none" stroke="#fff" stroke-width="1.5" stroke-linecap="round"/>
<path d="M276.7 133 A40 40 0 0 0 276.2 194.7" fill="none" stroke="#1e1e1e" stroke-width="3.5" stroke-linecap="round"/>
<path d="M276.7 133 A40 40 0 0 0 276.2 194.7" fill="none" stroke="#fff" stroke-width="1.5" stroke-linecap="round"/>
<path d="M287.6 201.4 A40 40 0 0 0 341.4 170.7" fill="none" stroke="#1e1e1e" stroke-width="3.5" stroke-linecap="round"/>
<path d="M287.6 201.4 A40 40 0 0 0 341.4 170.7" fill="none" stroke="#fff" stroke-width="1.5" stroke-linecap="round"/>
<path d="M295.2 144.6 A20.6 20.6 0 0 0 281.6 167.3" fill="none" stroke="#1e1e1e" stroke-width="3.3" stroke-linecap="round"/>
<path d="M295.2 144.6 A20.6 20.6 0 0 0 281.6 167.3" fill="none" stroke="#fff" stroke-width="1.2999999999999998" stroke-linecap="round"/>
<path d="M288.1 179.4 A20.6 20.6 0 0 0 315.1 179.9" fill="none" stroke="#1e1e1e" stroke-width="3.3" stroke-linecap="round"/>
<path d="M288.1 179.4 A20.6 20.6 0 0 0 315.1 179.9" fill="none" stroke="#fff" stroke-width="1.2999999999999998" stroke-linecap="round"/>
<path d="M322.2 167.3 A20.6 20.6 0 0 0 308.6 144.6" fill="none" stroke="#1e1e1e" stroke-width="3.3" stroke-linecap="round"/>
<path d="M322.2 167.3 A20.6 20.6 0 0 0 308.6 144.6" fill="none" stroke="#8a8a8a" stroke-width="1.0999999999999996" stroke-linecap="round"/>
<path d="M199.1 97 L199.1 75 L213.5 60.8 L233 60.8 Q243.5 61 245.6 71 L245.6 76 Q245.5 81 240.2 84.6 L219.6 102.4 Q214 108.3 209 105.3 L201 100 Q199.1 99 199.1 97 Z" fill="none" stroke="#161616" stroke-width="0.9"/>
<circle cx="210.4" cy="72.4" r="3.5" fill="none" stroke="#161616" stroke-width="1.4"/>
<path d="M206.9 72.4 L213.9 72.4" fill="none" stroke="#161616" stroke-width="0.8"/>
<path d="M210.4 68.9 L210.4 75.9" fill="none" stroke="#161616" stroke-width="0.8"/>
<circle cx="230.3" cy="76.3" r="3.3" fill="none" stroke="#333" stroke-width="0.9"/>
<path d="M225.9 76.3 L230.3 71.9 L234.7 76.3 L230.3 80.7 Z" fill="none" stroke="#333" stroke-width="0.8"/>
<path d="M227.9 73.9 L232.7 78.7" fill="none" stroke="#444" stroke-width="0.7"/>
<path d="M227.9 78.7 L232.7 73.9" fill="none" stroke="#444" stroke-width="0.7"/>
<circle cx="214.3" cy="92.2" r="3.3" fill="none" stroke="#333" stroke-width="0.9"/>
<path d="M209.9 92.2 L214.3 87.8 L218.7 92.2 L214.3 96.6 Z" fill="none" stroke="#333" stroke-width="0.8"/>
<path d="M211.9 89.8 L216.7 94.6" fill="none" stroke="#444" stroke-width="0.7"/>
<path d="M211.9 94.6 L216.7 89.8" fill="none" stroke="#444" stroke-width="0.7"/>
<path d="M404.7 97 L404.7 75 L390.3 60.8 L370.8 60.8 Q360.3 61 358.2 71 L358.2 76 Q358.3 81 363.6 84.6 L384.2 102.4 Q389.8 108.3 394.8 105.3 L402.8 100 Q404.7 99 404.7 97 Z" fill="none" stroke="#161616" stroke-width="0.9"/>
<circle cx="393.4" cy="72.4" r="3.5" fill="none" stroke="#161616" stroke-width="1.4"/>
<path d="M389.9 72.4 L396.9 72.4" fill="none" stroke="#161616" stroke-width="0.8"/>
<path d="M393.4 68.9 L393.4 75.9" fill="none" stroke="#161616" stroke-width="0.8"/>
<circle cx="373.5" cy="76.3" r="3.3" fill="none" stroke="#333" stroke-width="0.9"/>
<path d="M368.9 76.3 L378.1 76.3" fill="none" stroke="#333" stroke-width="0.8"/>
<path d="M373.5 71.7 L373.5 80.9" fill="none" stroke="#333" stroke-width="0.8"/>
<circle cx="389.5" cy="92.2" r="3.3" fill="none" stroke="#333" stroke-width="0.9"/>
<path d="M384.9 92.2 L394.1 92.2" fill="none" stroke="#333" stroke-width="0.8"/>
<path d="M389.5 87.6 L389.5 96.8" fill="none" stroke="#333" stroke-width="0.8"/>
<path d="M199.1 231.2 L199.1 253.2 L213.5 267.4 L233 267.4 Q243.5 267.2 245.6 257.2 L245.6 252.2 Q245.5 247.2 240.2 243.6 L219.6 225.8 Q214 219.9 209 222.9 L201 228.2 Q199.1 229.2 199.1 231.2 Z" fill="none" stroke="#161616" stroke-width="0.9"/>
<circle cx="210.4" cy="255.8" r="3.9" fill="none" stroke="#161616" stroke-width="1.6"/>
<circle cx="210.4" cy="255.8" r="2" fill="none" stroke="#333" stroke-width="1.2"/>
<path d="M206.4 255.8 L214.4 255.8" fill="none" stroke="#161616" stroke-width="0.7"/>
<path d="M210.4 251.8 L210.4 259.8" fill="none" stroke="#161616" stroke-width="0.7"/>
<circle cx="230.3" cy="251.9" r="3.3" fill="none" stroke="#333" stroke-width="0.9"/>
<path d="M225.7 251.9 L234.9 251.9" fill="none" stroke="#333" stroke-width="0.8"/>
<path d="M230.3 247.3 L230.3 256.5" fill="none" stroke="#333" stroke-width="0.8"/>
<circle cx="214.3" cy="236" r="3.3" fill="none" stroke="#333" stroke-width="0.9"/>
<path d="M209.7 236 L218.9 236" fill="none" stroke="#333" stroke-width="0.8"/>
<path d="M214.3 231.4 L214.3 240.6" fill="none" stroke="#333" stroke-width="0.8"/>
<path d="M404.7 231.2 L404.7 253.2 L390.3 267.4 L370.8 267.4 Q360.3 267.2 358.2 257.2 L358.2 252.2 Q358.3 247.2 363.6 243.6 L384.2 225.8 Q389.8 219.9 394.8 222.9 L402.8 228.2 Q404.7 229.2 404.7 231.2 Z" fill="none" stroke="#161616" stroke-width="0.9"/>
<circle cx="393.4" cy="255.8" r="3.9" fill="none" stroke="#161616" stroke-width="1.6"/>
<circle cx="393.4" cy="255.8" r="2" fill="none" stroke="#333" stroke-width="1.2"/>
<path d="M389.4 255.8 L397.4 255.8" fill="none" stroke="#161616" stroke-width="0.7"/>
<path d="M393.4 251.8 L393.4 259.8" fill="none" stroke="#161616" stroke-width="0.7"/>
<circle cx="373.5" cy="251.9" r="3.3" fill="none" stroke="#333" stroke-width="0.9"/>
<path d="M368.9 251.9 L378.1 251.9" fill="none" stroke="#333" stroke-width="0.8"/>
<path d="M373.5 247.3 L373.5 256.5" fill="none" stroke="#333" stroke-width="0.8"/>
<circle cx="389.5" cy="236" r="3.3" fill="none" stroke="#333" stroke-width="0.9"/>
<path d="M384.9 236 L394.1 236" fill="none" stroke="#333" stroke-width="0.8"/>
<path d="M389.5 231.4 L389.5 240.6" fill="none" stroke="#333" stroke-width="0.8"/>
<circle cx="221.7" cy="83.8" r="1.7" fill="#ccc" stroke="#555" stroke-width="0.9"/>
<circle cx="382.1" cy="244.4" r="1.5" fill="none" stroke="#555" stroke-width="0.8"/>
<path d="M198.6 100.6 L198.6 113.3 L213.4 113.3 L213.4 111.8 L200.4 100 Z" fill="none" stroke="#161616" stroke-width="0.9" stroke-linejoin="round"/>
<path d="M200.3 104 L200.3 111.6 L209.5 111.6 Z" fill="none" stroke="#161616" stroke-width="0.8" stroke-linejoin="round"/>
<path d="M198.6 227.6 L198.6 214.9 L213.4 214.9 L213.4 216.4 L200.4 228.2 Z" fill="none" stroke="#161616" stroke-width="0.9" stroke-linejoin="round"/>
<path d="M200.3 224.2 L200.3 216.6 L209.5 216.6 Z" fill="none" stroke="#161616" stroke-width="0.8" stroke-linejoin="round"/>
<path d="M195.7 117 L195.7 73.7 L212.1 57.6 L234.7 57.6 Q241 57.8 245.6 62.6 Q251.5 68.6 260 66.9 L265 65.2 L270.1 63.4 L275.3 61.9 L280.5 60.7 L285.8 59.7 L291.1 59 L296.5 58.6 L301.9 58.5 L307.3 58.6 L312.7 59 L318 59.7 L323.3 60.7 L328.5 61.9 L333.7 63.4 L338.8 65.2 L343.8 67.2 Q352.3 68.6 358.2 62.6 Q362.8 57.8 369.1 57.6 L391.7 57.6 L408.1 75 " fill="none" stroke="#161616" stroke-width="1.5" stroke-linejoin="round"/>
<path d="M194.4 214 L194.4 250 Q195 263 212.1 270.6 L234.7 270.6 Q241 270.4 245.6 265.6 Q251.5 259.6 260 261.3 L265 263 L270.1 264.8 L275.3 266.3 L280.5 267.5 L285.8 268.5 L291.1 269.2 L296.5 269.6 L301.9 269.7 L307.3 269.6 L312.7 269.2 L318 268.5 L323.3 267.5 L328.5 266.3 L333.7 264.8 L338.8 263 L343.8 261 Q352.3 259.6 358.2 265.6 Q362.8 270.4 369.1 270.6 L391.7 270.6 L408.1 253.2 L408.1 229" fill="none" stroke="#161616" stroke-width="1.5" stroke-linejoin="round"/>
<path d="M408.1 75 L408.1 97 Q407.8 103 403.5 107.5 Q399 112.5 399 119 Q399 124 399.8 128.5 L401.7 134.2 L403.3 140.1 L404.5 146 L405.4 152 L405.9 158 L406.1 164.1 L405.9 170.2 L405.4 176.2 L404.5 182.2 L403.3 188.1 L401.7 194 L399.8 199.7 Q399 204.2 399 209.2 Q399 215.7 403.5 220.7 Q407.8 225.2 408.1 231.2 L408.1 248.2" fill="none" stroke="#161616" stroke-width="1.5" stroke-linejoin="round"/>
<path d="M221.7 16.6 L221.7 83.8" fill="none" stroke="#1a1a1a" stroke-width="1.0"/>
<path d="M382.3 17 L382.3 244.3" fill="none" stroke="#1a1a1a" stroke-width="1.0"/>
<path d="M221.7 24.9 L382.3 24.9" fill="none" stroke="#1a1a1a" stroke-width="1.0"/>
<polygon points="221.7,24.9 237.5,22.8 237.5,27" fill="#000"/>
<polygon points="382.3,24.9 366.5,27 366.5,22.8" fill="#000"/>
<text transform="translate(301.7 22.6)" font-family="Liberation Serif, serif" font-size="22" text-anchor="middle" textLength="21.2" lengthAdjust="spacingAndGlyphs" fill="#111" stroke="#111" stroke-width="0.4">400</text>
<path d="M188 30.9 L188 308.6" fill="none" stroke="#1a1a1a" stroke-width="1.0"/>
<path d="M180 72.4 L207 72.4" fill="none" stroke="#1a1a1a" stroke-width="1.0"/>
<path d="M180 92.2 L211 92.2" fill="none" stroke="#1a1a1a" stroke-width="1.0"/>
<path d="M180.5 235.6 L211.5 235.6" fill="none" stroke="#1a1a1a" stroke-width="1.0"/>
<path d="M180.5 251.3 L235 251.3" fill="none" stroke="#1a1a1a" stroke-width="1.0"/>
<polygon points="188,72.4 185.9,56.9 190.1,56.9" fill="#000"/>
<polygon points="188,92.2 190.1,107.7 185.9,107.7" fill="#000"/>
<polygon points="188,235.6 185.9,220.1 190.1,220.1" fill="#000"/>
<polygon points="188,251.3 190.1,266.8 185.9,266.8" fill="#000"/>
<text transform="translate(186.6 37.6) rotate(-90)" font-family="Liberation Serif, serif" font-size="22" text-anchor="middle" textLength="13.6" lengthAdjust="spacingAndGlyphs" fill="#111" stroke="#111" stroke-width="0.4">40</text>
<text transform="translate(186.4 164.2) rotate(-90)" font-family="Liberation Serif, serif" font-size="22" text-anchor="middle" textLength="21" lengthAdjust="spacingAndGlyphs" fill="#111" stroke="#111" stroke-width="0.4">356</text>
<text transform="translate(186 302) rotate(-90)" font-family="Liberation Serif, serif" font-size="22" text-anchor="middle" textLength="13.6" lengthAdjust="spacingAndGlyphs" fill="#111" stroke="#111" stroke-width="0.4">40</text>
<path d="M229.8 84 L229.8 244.3" fill="none" stroke="#1a1a1a" stroke-width="1.0"/>
<polygon points="229.8,84.6 231.9,99.1 227.7,99.1" fill="#000"/>
<polygon points="229.8,243.8 227.7,229.3 231.9,229.3" fill="#000"/>
<path d="M222.3 244.3 L382.3 244.3" fill="none" stroke="#1a1a1a" stroke-width="1.0"/>
<text transform="translate(227.5 164.2) rotate(-90)" font-family="Liberation Serif, serif" font-size="22" text-anchor="middle" textLength="21" lengthAdjust="spacingAndGlyphs" fill="#111" stroke="#111" stroke-width="0.4">400</text>
<path d="M210.7 255.2 L210.7 374.6" fill="none" stroke="#1a1a1a" stroke-width="1.0"/>
<path d="M214.6 235.6 L214.6 344.6" fill="none" stroke="#1a1a1a" stroke-width="1.0"/>
<path d="M230.2 251.3 L230.2 344.6" fill="none" stroke="#1a1a1a" stroke-width="1.0"/>
<path d="M373.6 251.3 L373.6 344.6" fill="none" stroke="#1a1a1a" stroke-width="1.0"/>
<path d="M393.3 255.2 L393.3 373.8" fill="none" stroke="#1a1a1a" stroke-width="1.0"/>
<path d="M168 336.4 L373.6 336.4" fill="none" stroke="#1a1a1a" stroke-width="1.0"/>
<polygon points="210.7,336.4 196.7,338.5 196.7,334.3" fill="#000"/>
<polygon points="230.2,336.4 246.2,334.3 246.2,338.5" fill="#000"/>
<polygon points="373.6,336.4 357.6,338.5 357.6,334.3" fill="#000"/>
<text transform="translate(175 334)" font-family="Liberation Serif, serif" font-size="22" text-anchor="middle" textLength="13.6" lengthAdjust="spacingAndGlyphs" fill="#111" stroke="#111" stroke-width="0.4">40</text>
<text transform="translate(301.7 333.8)" font-family="Liberation Serif, serif" font-size="22" text-anchor="middle" textLength="20.4" lengthAdjust="spacingAndGlyphs" fill="#111" stroke="#111" stroke-width="0.4">356</text>
<path d="M210.7 366 L393.3 366" fill="none" stroke="#1a1a1a" stroke-width="1.0"/>
<polygon points="210.7,366 226.7,363.9 226.7,368.1" fill="#000"/>
<polygon points="393.3,366 377.3,368.1 377.3,363.9" fill="#000"/>
<text transform="translate(301.7 363.6)" font-family="Liberation Serif, serif" font-size="22" text-anchor="middle" textLength="20.6" lengthAdjust="spacingAndGlyphs" fill="#111" stroke="#111" stroke-width="0.4">456</text>
<path d="M73.4 54.5 L247 89" fill="none" stroke="#1a1a1a" stroke-width="1.0"/>
<polygon points="220.4,83.6 203.3,82.5 204.2,78" fill="#000"/>
<polygon points="224.6,84.5 239.8,85.2 238.9,89.7" fill="#000"/>
<g transform="translate(74.3 51.3) rotate(11.2)">
<text transform="translate(0 0)" font-family="Liberation Serif, serif" font-size="22" text-anchor="start" textLength="13.5" lengthAdjust="spacingAndGlyphs" fill="#111" stroke="#111" stroke-width="0.4">2-</text>
<g transform="translate(15.3 0)">
<ellipse cx="4.9" cy="-4.5" rx="3.9" ry="4.1" fill="none" stroke="#111" stroke-width="1.1"/>
<path d="M0.2 0.6 L9.7 -9.8" stroke="#111" stroke-width="0.9900000000000001" fill="none"/>
</g>
<text transform="translate(25.5 0)" font-family="Liberation Serif, serif" font-size="22" text-anchor="start" textLength="29.5" lengthAdjust="spacingAndGlyphs" fill="#111" stroke="#111" stroke-width="0.4">12H7</text>
<text transform="translate(56.2 -2.4)" font-family="Liberation Serif, serif" font-size="21" text-anchor="start" textLength="4.6" lengthAdjust="spacingAndGlyphs" fill="#111" stroke="#111" stroke-width="0.4">(</text>
<text transform="translate(61.3 -13.4)" font-family="Liberation Serif, serif" font-size="12" text-anchor="start" textLength="10.4" lengthAdjust="spacingAndGlyphs" fill="#111" stroke="#111" stroke-width="0.25">+0.</text>
<text transform="translate(74 -13.4)" font-family="Liberation Serif, serif" font-size="12" text-anchor="start" textLength="17.4" lengthAdjust="spacingAndGlyphs" fill="#111" stroke="#111" stroke-width="0.25">018</text>
<text transform="translate(66.2 -1.6)" font-family="Liberation Serif, serif" font-size="12" text-anchor="start" textLength="4.4" lengthAdjust="spacingAndGlyphs" fill="#111" stroke="#111" stroke-width="0.25">0</text>
<text transform="translate(92.8 -2.4)" font-family="Liberation Serif, serif" font-size="21" text-anchor="start" textLength="4.6" lengthAdjust="spacingAndGlyphs" fill="#111" stroke="#111" stroke-width="0.4">)</text>
</g>
<path d="M358.7 228.1 L436.9 352.8" fill="none" stroke="#1a1a1a" stroke-width="1.0"/>
<polygon points="371.9,248.8 362.1,237.2 365.8,234.9" fill="#000"/>
<polygon points="375.1,253.8 384.9,265.4 381.2,267.7" fill="#000"/>
<g transform="translate(418.4 319.6) rotate(57.9)">
<text transform="translate(0 0)" font-family="Liberation Serif, serif" font-size="22" text-anchor="start" textLength="13.5" lengthAdjust="spacingAndGlyphs" fill="#111" stroke="#111" stroke-width="0.4">8-</text>
<g transform="translate(15.3 0)">
<ellipse cx="4.9" cy="-4.5" rx="3.9" ry="4.1" fill="none" stroke="#111" stroke-width="1.1"/>
<path d="M0.2 0.6 L9.7 -9.8" stroke="#111" stroke-width="0.9900000000000001" fill="none"/>
</g>
<text transform="translate(25.8 0)" font-family="Liberation Serif, serif" font-size="22" text-anchor="start" textLength="12.8" lengthAdjust="spacingAndGlyphs" fill="#111" stroke="#111" stroke-width="0.4">18</text>
</g>
<path d="M372.4 239.4 L514.4 347.7" fill="none" stroke="#1a1a1a" stroke-width="1.0"/>
<polygon points="390.3,253 377.1,245.7 379.7,242.2" fill="#000"/>
<polygon points="396.1,257.4 409.3,264.7 406.7,268.2" fill="#000"/>
<g transform="translate(468.6 310.6) rotate(37.3)">
<text transform="translate(0 0)" font-family="Liberation Serif, serif" font-size="22" text-anchor="start" textLength="58" lengthAdjust="spacingAndGlyphs" fill="#111" stroke="#111" stroke-width="0.4">4-M20-6H</text>
</g>
<path d="M660.6 128 L627.2 128 L627.2 199.8 L676.3 202.2 L725.3 215.3" fill="none" stroke="#2a2a2a" stroke-width="1.1"/>
<path d="M633.2 128 L633.2 119.8 L672.7 119.8 L672.7 128 M635.6 128 L635.6 122.2 L670.3 122.2 L670.3 128" fill="none" stroke="#2a2a2a" stroke-width="0.9"/>
<path d="M683.4 128 L683.4 122 L702.6 122 L702.6 128 M686 128 L686 124 L700 124" fill="none" stroke="#2a2a2a" stroke-width="0.8"/>
<path d="M641 122.2 L641 125" fill="none" stroke="#2a2a2a" stroke-width="0.7"/>
<path d="M665 122.2 L665 125" fill="none" stroke="#2a2a2a" stroke-width="0.7"/>
<path d="M630.8 136.3 Q635 146 634.6 158 Q635 178 630.8 191.4" fill="none" stroke="#2a2a2a" stroke-width="0.9"/>
<path d="M630.8 136.3 L627.2 134" fill="none" stroke="#2a2a2a" stroke-width="0.8"/>
<path d="M630.8 191.4 L627.2 194" fill="none" stroke="#2a2a2a" stroke-width="0.8"/>
<circle cx="629.4" cy="155.3" r="0.7" fill="#2a2a2a" stroke="#2a2a2a" stroke-width="0.6"/>
<circle cx="629.4" cy="172.2" r="0.7" fill="#2a2a2a" stroke="#2a2a2a" stroke-width="0.6"/>
<path d="M657.1 201.2 L699 214.1" fill="none" stroke="#2a2a2a" stroke-width="0.9"/>
<circle cx="681.7" cy="162.2" r="40.1" fill="none" stroke="#2a2a2a" stroke-width="0.9"/>
<circle cx="681.7" cy="162.2" r="36.3" fill="none" stroke="#1c1c1c" stroke-width="1.4"/>
<circle cx="681.7" cy="162.2" r="33.2" fill="none" stroke="#2a2a2a" stroke-width="0.8"/>
<circle cx="681.7" cy="162.2" r="30.8" fill="none" stroke="#1c1c1c" stroke-width="1.4"/>
<circle cx="681.7" cy="162.2" r="24.6" fill="none" stroke="#444" stroke-width="0.7"/>
<circle cx="681.7" cy="162.2" r="8.9" fill="none" stroke="#1c1c1c" stroke-width="1.2"/>
<path d="M720.8 181.8 Q723 187 725.3 193.2 L733.7 192.6 L733.7 215.3 L725.3 215.3" fill="none" stroke="#2a2a2a" stroke-width="1.1"/>
<path d="M725.3 193.2 L725.3 215.3" fill="none" stroke="#2a2a2a" stroke-width="0.8"/>
<path d="M729 192.9 L729 215.3" fill="none" stroke="#2a2a2a" stroke-width="0.7"/>
<path d="M681.7 132 L681.7 196" fill="none" stroke="#333" stroke-width="0.7" stroke-dasharray="8 1.5 2 1.5"/>
<path d="M649 162.2 L715 162.2" fill="none" stroke="#333" stroke-width="0.7" stroke-dasharray="8 1.5 2 1.5"/>
<path d="M704.2 162.2 L706.3 160.1 L708.4 162.2 L706.3 164.3 Z" fill="#111" stroke="#111" stroke-width="0.6"/>
<path d="M699.5 147.7 L701.6 145.6 L703.7 147.7 L701.6 149.8 Z" fill="#111" stroke="#111" stroke-width="0.6"/>
<path d="M687.2 138.8 L689.3 136.7 L691.4 138.8 L689.3 140.9 Z" fill="#111" stroke="#111" stroke-width="0.6"/>
<path d="M672 138.8 L674.1 136.7 L676.2 138.8 L674.1 140.9 Z" fill="#111" stroke="#111" stroke-width="0.6"/>
<path d="M659.7 147.7 L661.8 145.6 L663.9 147.7 L661.8 149.8 Z" fill="#111" stroke="#111" stroke-width="0.6"/>
<path d="M655 162.2 L657.1 160.1 L659.2 162.2 L657.1 164.3 Z" fill="#111" stroke="#111" stroke-width="0.6"/>
<path d="M659.7 176.7 L661.8 174.6 L663.9 176.7 L661.8 178.8 Z" fill="#111" stroke="#111" stroke-width="0.6"/>
<path d="M672 185.6 L674.1 183.5 L676.2 185.6 L674.1 187.7 Z" fill="#111" stroke="#111" stroke-width="0.6"/>
<path d="M687.2 185.6 L689.3 183.5 L691.4 185.6 L689.3 187.7 Z" fill="#111" stroke="#111" stroke-width="0.6"/>
<path d="M699.5 176.7 L701.6 174.6 L703.7 176.7 L701.6 178.8 Z" fill="#111" stroke="#111" stroke-width="0.6"/>
<circle cx="675.3" cy="146.2" r="1.8" fill="none" stroke="#0a0a0a" stroke-width="1.6"/>
<circle cx="679.7" cy="145.2" r="1.8" fill="none" stroke="#0a0a0a" stroke-width="1.6"/>
<circle cx="683.5" cy="150.3" r="2.4" fill="none" stroke="#0a0a0a" stroke-width="1.6"/>
<circle cx="687.6" cy="145.8" r="1.8" fill="none" stroke="#0a0a0a" stroke-width="1.6"/>
<circle cx="691.3" cy="147.6" r="1.8" fill="none" stroke="#0a0a0a" stroke-width="1.6"/>
<circle cx="663" cy="163" r="1.9" fill="none" stroke="#0a0a0a" stroke-width="1.6"/>
<circle cx="663.9" cy="166.7" r="1.8" fill="none" stroke="#0a0a0a" stroke-width="1.6"/>
<circle cx="668.7" cy="169.5" r="2.5" fill="none" stroke="#0a0a0a" stroke-width="1.6"/>
<circle cx="666" cy="174.9" r="1.8" fill="none" stroke="#0a0a0a" stroke-width="1.6"/>
<circle cx="669.4" cy="177.7" r="1.8" fill="none" stroke="#0a0a0a" stroke-width="1.6"/>
<circle cx="700.2" cy="166.7" r="1.8" fill="none" stroke="#0a0a0a" stroke-width="1.6"/>
<circle cx="698.8" cy="171.5" r="1.8" fill="none" stroke="#0a0a0a" stroke-width="1.6"/>
<circle cx="692.7" cy="172.2" r="2.5" fill="none" stroke="#0a0a0a" stroke-width="1.6"/>
<circle cx="694" cy="177.7" r="1.8" fill="none" stroke="#0a0a0a" stroke-width="1.6"/>
<circle cx="690.6" cy="180.4" r="1.8" fill="none" stroke="#0a0a0a" stroke-width="1.6"/>
<circle cx="651.6" cy="142.1" r="1.9" fill="none" stroke="#2a2a2a" stroke-width="0.9"/>
<circle cx="651.6" cy="185.2" r="1.9" fill="none" stroke="#2a2a2a" stroke-width="0.9"/>
<circle cx="714.6" cy="161.5" r="1.3" fill="none" stroke="#2a2a2a" stroke-width="0.8"/>
<circle cx="713.6" cy="157.6" r="0.9" fill="none" stroke="#2a2a2a" stroke-width="0.7"/>
<path d="M676.3 202.2 L676.3 199.2 Q677 196.4 680 196.3 L683.4 196.3 Q686.6 196.4 687 199.2 L687 202.6" fill="none" stroke="#2a2a2a" stroke-width="1"/>
<path d="M678.5 202.2 L678.5 200 Q679 198.4 681 198.4 L682.6 198.4 Q684.8 198.6 684.9 200.4 L684.9 202.4" fill="none" stroke="#2a2a2a" stroke-width="0.8"/>
<path d="M700.2 216.6 L733.7 216.6 L733.7 239.6 L706 239.6" fill="none" stroke="#2a2a2a" stroke-width="1"/>
<path d="M700.2 218.2 L733.7 218.2" fill="none" stroke="#2a2a2a" stroke-width="0.7"/>
<circle cx="715.8" cy="221.4" r="2.9" fill="none" stroke="#2a2a2a" stroke-width="1"/>
<circle cx="715.8" cy="221.4" r="1.5" fill="#777" stroke="#222" stroke-width="1.1"/>
<path d="M708.6 239.6 L708.6 242.6 L725.3 242.6 L725.3 239.6 M714 242.6 L714 244 L720 244 L720 242.6" fill="none" stroke="#2a2a2a" stroke-width="0.9"/>
<path d="M694.2 221 L697.6 218.9 L703.6 218.9 L705 221 L705 236 L703.6 238.1 L697.6 238.1 L694.2 236 Z" fill="none" stroke="#2a2a2a" stroke-width="0.9"/>
<path d="M697.6 218.9 L699.6 223 L699.6 234 L697.6 238.1 M703.6 218.9 L702 223 L702 234 L703.6 238.1" fill="none" stroke="#2a2a2a" stroke-width="0.7"/>
<path d="M689.5 219.6 L697 219.6" fill="none" stroke="#2a2a2a" stroke-width="0.8"/>
<path d="M689.5 236.6 L697 236.6" fill="none" stroke="#2a2a2a" stroke-width="0.8"/>
<path d="M705 220 L705 216.6" fill="none" stroke="#2a2a2a" stroke-width="0.8"/>
<path d="M687.2 157.8 L780.9 99.1" fill="none" stroke="#222" stroke-width="0.9"/>
<polygon points="687.2,157.8 699.2,147.7 701.5,151.4" fill="#000"/>
<path d="M711 143 L716.8 139.3" fill="none" stroke="#111" stroke-width="2"/>
<g transform="translate(717.8 135.4) rotate(-32.1)">
<text transform="translate(0 0)" font-family="Liberation Serif, serif" font-size="22" text-anchor="start" textLength="41" lengthAdjust="spacingAndGlyphs" fill="#111" stroke="#111" stroke-width="0.4">10-M10</text>
<use href="#g_tong" transform="translate(42.5 -13.1) scale(0.1400 0.1500)"/>
<use href="#g_kong" transform="translate(57.2 -13.1) scale(0.1400 0.1500)"/>
</g>
<g transform="translate(748.6 143.6) rotate(-32.1)">
<use href="#g_hou" transform="translate(0 -13.1) scale(0.1400 0.1500)"/>
<text transform="translate(15.5 0)" font-family="Liberation Serif, serif" font-size="22" text-anchor="start" textLength="13.5" lengthAdjust="spacingAndGlyphs" fill="#111" stroke="#111" stroke-width="0.4">25</text>
</g>
<path d="M663 165.7 L808.1 141" fill="none" stroke="#222" stroke-width="0.9"/>
<polygon points="706,158.1 691.1,162.8 690.3,158.5" fill="#000"/>
<g transform="translate(777.6 141.6) rotate(-9.5)">
<g transform="translate(0 0)">
<ellipse cx="4.9" cy="-4.5" rx="3.9" ry="4.1" fill="none" stroke="#111" stroke-width="1.1"/>
<path d="M0.2 0.6 L9.7 -9.8" stroke="#111" stroke-width="0.9900000000000001" fill="none"/>
</g>
<text transform="translate(10.2 0)" font-family="Liberation Serif, serif" font-size="22" text-anchor="start" textLength="20.5" lengthAdjust="spacingAndGlyphs" fill="#111" stroke="#111" stroke-width="0.4">125</text>
</g>
<path d="M640.8 184.5 L858.6 184.5" fill="none" stroke="#222" stroke-width="0.9"/>
<polygon points="649.6,184.5 641.1,186.5 641.1,182.5" fill="#000"/>
<polygon points="668.5,184.5 684.5,182.4 684.5,186.6" fill="#000"/>
<text transform="translate(735.8 179.2)" font-family="Liberation Serif, serif" font-size="22" text-anchor="start" textLength="13.5" lengthAdjust="spacingAndGlyphs" fill="#111" stroke="#111" stroke-width="0.4">2-</text>
<g transform="translate(751 179.2)">
<ellipse cx="4.9" cy="-4.5" rx="3.9" ry="4.1" fill="none" stroke="#111" stroke-width="1.1"/>
<path d="M0.2 0.6 L9.7 -9.8" stroke="#111" stroke-width="0.9900000000000001" fill="none"/>
</g>
<text transform="translate(761.6 179.2)" font-family="Liberation Serif, serif" font-size="22" text-anchor="start" textLength="22" lengthAdjust="spacingAndGlyphs" fill="#111" stroke="#111" stroke-width="0.4">8H7</text>
<text transform="translate(785.4 176.8)" font-family="Liberation Serif, serif" font-size="21" text-anchor="start" textLength="4.6" lengthAdjust="spacingAndGlyphs" fill="#111" stroke="#111" stroke-width="0.4">(</text>
<text transform="translate(791.2 167.6)" font-family="Liberation Serif, serif" font-size="12" text-anchor="start" textLength="13" lengthAdjust="spacingAndGlyphs" fill="#111" stroke="#111" stroke-width="0.25">+0.</text>
<text transform="translate(806.5 167.6)" font-family="Liberation Serif, serif" font-size="12" text-anchor="start" textLength="14.2" lengthAdjust="spacingAndGlyphs" fill="#111" stroke="#111" stroke-width="0.25">015</text>
<text transform="translate(795.4 179.2)" font-family="Liberation Serif, serif" font-size="12" text-anchor="start" textLength="4.6" lengthAdjust="spacingAndGlyphs" fill="#111" stroke="#111" stroke-width="0.25">0</text>
<text transform="translate(823.6 176.8)" font-family="Liberation Serif, serif" font-size="21" text-anchor="start" textLength="4.6" lengthAdjust="spacingAndGlyphs" fill="#111" stroke="#111" stroke-width="0.4">)</text>
<use href="#g_tong" transform="translate(830.6 166.3) scale(0.1400 0.1500)"/>
<use href="#g_kong" transform="translate(845 166.3) scale(0.1350 0.1500)"/>
<circle cx="956.7" cy="262.4" r="26.2" fill="none" stroke="#1c1c1c" stroke-width="1.3"/>
<circle cx="947.7" cy="242.1" r="1.4" fill="none" stroke="#111" stroke-width="1.1"/>
<circle cx="964.4" cy="242.1" r="1.4" fill="none" stroke="#111" stroke-width="1.1"/>
<circle cx="976.2" cy="270.8" r="1.4" fill="none" stroke="#111" stroke-width="1.1"/>
<circle cx="947.7" cy="282.6" r="1.4" fill="none" stroke="#111" stroke-width="1.1"/>
<circle cx="964.4" cy="282.6" r="1.4" fill="none" stroke="#111" stroke-width="1.1"/>
<path d="M956.7 235.6 L956.7 288.6" fill="none" stroke="#333" stroke-width="0.7" stroke-dasharray="7 1.5 2 1.5"/>
<path d="M915.1 256.2 Q935 253.5 956 248.6 Q975 244.8 992 244.4" fill="none" stroke="#2a2a2a" stroke-width="0.9"/>
<path d="M915.1 269 Q932 266 948 262.8 Q966 261 986.8 261.2" fill="none" stroke="#2a2a2a" stroke-width="0.9"/>
<path d="M930.5 262.6 L984 262.6" fill="none" stroke="#555" stroke-width="0.6"/>
<path d="M948 289.5 L948 291.5" fill="none" stroke="#2a2a2a" stroke-width="1.2"/>
<path d="M962.5 289.5 L962.5 291.5" fill="none" stroke="#2a2a2a" stroke-width="1.2"/>
<path d="M986.9 244.6 L986.9 283.1" fill="none" stroke="#2a2a2a" stroke-width="0.9"/>
<path d="M992 244.4 L992 284" fill="none" stroke="#2a2a2a" stroke-width="0.9"/>
<path d="M982.5 266 Q986 277 976 286.6" fill="none" stroke="#2a2a2a" stroke-width="0.8"/>
<path d="M937.5 235.6 Q944 232.5 958 234.6" fill="none" stroke="#2a2a2a" stroke-width="0.8"/>
<path d="M934 288.6 L986.9 287.8 M943 290.8 Q960 292.5 981 286.5 Q990 287 996.7 296.7 Q1003 304.5 1013.2 309.4" fill="none" stroke="#2a2a2a" stroke-width="0.9"/>
<path d="M937.7 233.4 L955.4 234 Q999.6 216.4 1045.4 175.4" fill="none" stroke="#2a2a2a" stroke-width="1"/>
<path d="M934.5 235.6 L957 235.6 Q1001 218 1047 177" fill="none" stroke="#2a2a2a" stroke-width="0.8"/>
<path d="M1048.5 180 L1061.5 167.7 M1050 181.4 L1063 169.2" fill="none" stroke="#2a2a2a" stroke-width="0.9"/>
<path d="M937 236.8 Q946 233 960 235" fill="none" stroke="#2a2a2a" stroke-width="0.8"/>
<path d="M964.6 235.4 L994.6 220.2 M967 236.6 L994.6 222.8" fill="none" stroke="#2a2a2a" stroke-width="0.9"/>
<path d="M1000 216.2 L1026.2 197 Q1027.4 196.5 1029 196.5 L1075 196.5" fill="none" stroke="#2a2a2a" stroke-width="0.9"/>
<path d="M1002.3 218.4 L1027.4 200 Q1028.4 199.6 1030 199.6 L1075 199.6" fill="none" stroke="#2a2a2a" stroke-width="0.9"/>
<path d="M1032.3 191 L1034.6 193.2 L1078.5 193.2 M1033 194.8 L1076 194.8" fill="none" stroke="#2a2a2a" stroke-width="0.9"/>
<path d="M1031 189.8 L1033.8 192.6 M1031 189.8 L1044 178.4 M1033 191 L1046 180" fill="none" stroke="#2a2a2a" stroke-width="0.8"/>
<path d="M1074.6 193.2 L1074.6 199.8 Q1075 200.8 1076.5 200.8 L1078.6 200.8 Q1080 200.6 1080 199.4 L1080 191.6" fill="none" stroke="#2a2a2a" stroke-width="0.9"/>
<path d="M994.6 220.4 L994.6 241.8" fill="none" stroke="#2a2a2a" stroke-width="0.9"/>
<path d="M997.4 219.4 L997.4 241.8" fill="none" stroke="#2a2a2a" stroke-width="0.8"/>
<path d="M1000 216.4 L1000 241.8" fill="none" stroke="#2a2a2a" stroke-width="0.9"/>
<path d="M1002.3 218 L1002.3 241.8" fill="none" stroke="#2a2a2a" stroke-width="0.8"/>
<path d="M994 220.8 L995.6 218.6 L997.8 219.6" fill="none" stroke="#2a2a2a" stroke-width="0.8"/>
<path d="M1008.5 213.2 L1022.3 232.3" fill="none" stroke="#2a2a2a" stroke-width="0.9"/>
<path d="M1031.5 223 L1049.2 199.8" fill="none" stroke="#2a2a2a" stroke-width="0.8"/>
<path d="M1033.8 223 L1051.2 199.8" fill="none" stroke="#2a2a2a" stroke-width="0.8"/>
<path d="M1036.1 223 L1053.2 199.8" fill="none" stroke="#2a2a2a" stroke-width="0.8"/>
<path d="M1038.4 223 L1055.2 199.8" fill="none" stroke="#2a2a2a" stroke-width="0.8"/>
<path d="M1040.7 223 L1057.2 199.8" fill="none" stroke="#2a2a2a" stroke-width="0.8"/>
<path d="M1051.5 193 L1065.4 173.8" fill="none" stroke="#2a2a2a" stroke-width="0.8"/>
<path d="M1053.4 193 L1066.9 174.4" fill="none" stroke="#2a2a2a" stroke-width="0.8"/>
<path d="M1055.3 193 L1068.4 175" fill="none" stroke="#2a2a2a" stroke-width="0.8"/>
<path d="M1057.2 193 L1069.9 175.6" fill="none" stroke="#2a2a2a" stroke-width="0.8"/>
<path d="M1059.1 193 L1071.4 176.2" fill="none" stroke="#2a2a2a" stroke-width="0.8"/>
<path d="M1056.2 223 L1068.5 200" fill="none" stroke="#2a2a2a" stroke-width="0.85"/>
<path d="M1060 223 L1072.3 200" fill="none" stroke="#2a2a2a" stroke-width="0.85"/>
<path d="M1072.3 193 L1078.5 179.2" fill="none" stroke="#2a2a2a" stroke-width="0.85"/>
<path d="M1075.6 193 L1081.5 180.4" fill="none" stroke="#2a2a2a" stroke-width="0.85"/>
<path d="M1090 173 Q1084.5 184 1083.2 196 Q1081.5 206 1081.5 214 L1081.5 231 Q1081.6 238.4 1077.4 240.2 L1068.5 242.3" fill="none" stroke="#2a2a2a" stroke-width="0.9"/>
<path d="M1086.2 175.4 Q1081 186 1079.6 196 Q1077.7 206 1077.7 214 L1077.7 230 Q1077.6 236 1074.6 237.6 L1066.5 239.6" fill="none" stroke="#2a2a2a" stroke-width="0.9"/>
<path d="M1081.5 231 L1069 241" fill="none" stroke="#2a2a2a" stroke-width="0.8"/>
<path d="M1092.6 172.6 Q1086.5 184 1085.4 196" fill="none" stroke="#2a2a2a" stroke-width="0.7"/>
<rect x="1031.6" y="223.2" width="26" height="5.6" rx="0" fill="#222" stroke="#111" stroke-width="0.8"/>
<path d="M1033.2 224 L1033.2 228.4" fill="none" stroke="#ddd" stroke-width="0.6"/>
<path d="M1035.1 224 L1035.1 228.4" fill="none" stroke="#ddd" stroke-width="0.6"/>
<path d="M1037 224 L1037 228.4" fill="none" stroke="#ddd" stroke-width="0.6"/>
<path d="M1038.9 224 L1038.9 228.4" fill="none" stroke="#ddd" stroke-width="0.6"/>
<path d="M1040.8 224 L1040.8 228.4" fill="none" stroke="#ddd" stroke-width="0.6"/>
<path d="M1042.7 224 L1042.7 228.4" fill="none" stroke="#ddd" stroke-width="0.6"/>
<path d="M1044.6 224 L1044.6 228.4" fill="none" stroke="#ddd" stroke-width="0.6"/>
<path d="M1046.5 224 L1046.5 228.4" fill="none" stroke="#ddd" stroke-width="0.6"/>
<path d="M1048.4 224 L1048.4 228.4" fill="none" stroke="#ddd" stroke-width="0.6"/>
<path d="M1050.3 224 L1050.3 228.4" fill="none" stroke="#ddd" stroke-width="0.6"/>
<path d="M1052.2 224 L1052.2 228.4" fill="none" stroke="#ddd" stroke-width="0.6"/>
<path d="M1054.1 224 L1054.1 228.4" fill="none" stroke="#ddd" stroke-width="0.6"/>
<path d="M1056 224 L1056 228.4" fill="none" stroke="#ddd" stroke-width="0.6"/>
<path d="M1025.1 241.5 L1025.1 229.6 L1064.4 229.6 L1064.4 241.5" fill="none" stroke="#2a2a2a" stroke-width="0.9"/>
<path d="M1030 231.8 L1062 231.8" fill="none" stroke="#2a2a2a" stroke-width="0.7"/>
<rect x="1022.6" y="223.6" width="7.6" height="7.6" rx="0" fill="none" stroke="#2a2a2a" stroke-width="0.9"/>
<rect x="1034.6" y="233" width="3.3" height="8.5" rx="0" fill="#222" stroke="#161616" stroke-width="0"/>
<rect x="1050.8" y="233" width="7" height="8.5" rx="0" fill="#222" stroke="#161616" stroke-width="0"/>
<path d="M1052.4 233 L1052.4 241.5" fill="none" stroke="#bbb" stroke-width="0.5"/>
<path d="M1054.2 233 L1054.2 241.5" fill="none" stroke="#bbb" stroke-width="0.5"/>
<path d="M1056 233 L1056 241.5" fill="none" stroke="#bbb" stroke-width="0.5"/>
<path d="M1042 231.8 L1042 241.5" fill="none" stroke="#2a2a2a" stroke-width="0.7"/>
<path d="M1046.5 231.8 L1046.5 241.5" fill="none" stroke="#2a2a2a" stroke-width="0.7"/>
<path d="M1018 236 L1025 231.5" fill="none" stroke="#2a2a2a" stroke-width="0.8"/>
<path d="M1018 238.4 L1025.1 238.4" fill="none" stroke="#2a2a2a" stroke-width="0.8"/>
<path d="M1018 236 L1018 242.3" fill="none" stroke="#2a2a2a" stroke-width="0.8"/>
<path d="M995.2 242.3 L1036.2 242.3 L1036.2 291 L995.2 291 Z" fill="none" stroke="#2a2a2a" stroke-width="1"/>
<path d="M996.9 242.3 L996.9 291" fill="none" stroke="#2a2a2a" stroke-width="0.7"/>
<path d="M1034.5 242.3 L1034.5 291" fill="none" stroke="#2a2a2a" stroke-width="0.7"/>
<path d="M992 244.2 L1036.2 244.2" fill="none" stroke="#2a2a2a" stroke-width="0.8"/>
<circle cx="998.7" cy="275.7" r="1.3" fill="none" stroke="#111" stroke-width="0.9"/>
<circle cx="1032" cy="275.7" r="1.3" fill="none" stroke="#111" stroke-width="0.9"/>
<circle cx="1032" cy="248.4" r="1.3" fill="none" stroke="#111" stroke-width="0.9"/>
<rect x="996.9" y="246.5" width="5.2" height="10.5" rx="0" fill="none" stroke="#2a2a2a" stroke-width="0.8"/>
<rect x="1004" y="246.5" width="6" height="7" rx="0" fill="none" stroke="#2a2a2a" stroke-width="0.8"/>
<rect x="1012.3" y="246.5" width="6" height="18.2" rx="0" fill="none" stroke="#2a2a2a" stroke-width="0.8"/>
<path d="M1012.3 251.5 L1018.3 251.5" fill="none" stroke="#2a2a2a" stroke-width="0.7"/>
<path d="M1003.8 258.5 Q1003 270.5 1015.2 271.5 L1021.8 271.5 M1007.6 258.5 Q1007.5 267.4 1015.2 267.8 L1018.4 267.8" fill="none" stroke="#2a2a2a" stroke-width="0.9"/>
<rect x="1003.8" y="258.5" width="6.8" height="4.4" rx="0" fill="#444" stroke="#222" stroke-width="0.6"/>
<path d="M1018.8 246.8 Q1028.5 250 1028.6 262 Q1028.2 268 1025.5 271" fill="none" stroke="#2a2a2a" stroke-width="0.9"/>
<path d="M1019 250.4 Q1025 253.5 1025.2 262" fill="none" stroke="#2a2a2a" stroke-width="0.8"/>
<path d="M1020.3 264.8 L1020.3 277.4 L1017.8 280.5 L1016.6 290.8 M1023.6 264.8 L1023.6 277.4 L1026.1 280.5 L1027.4 290.8 M1017.8 280.5 L1026.1 280.5 M1017.2 285.5 L1026.9 285.5 M1018 277.4 L1026 277.4 M1018 264.8 L1026 264.8" fill="none" stroke="#2a2a2a" stroke-width="0.9"/>
<path d="M1003 283 L1013.2 283 L1013.2 290.8 L1003 290.8 Z M1004.6 283 L1004.6 281 L1011.6 281 L1011.6 283" fill="none" stroke="#2a2a2a" stroke-width="0.9"/>
<path d="M1003 286.6 L1013.2 286.6" fill="none" stroke="#2a2a2a" stroke-width="0.7"/>
<path d="M995.2 293.6 L1036.2 293.6" fill="none" stroke="#2a2a2a" stroke-width="0.9"/>
<rect x="1002" y="293.6" width="10.5" height="4.6" rx="0" fill="none" stroke="#2a2a2a" stroke-width="0.8"/>
<path d="M1007.2 293.6 L1007.2 298.2" fill="none" stroke="#2a2a2a" stroke-width="0.7"/>
<rect x="1016.6" y="293.6" width="11" height="3.6" rx="0" fill="none" stroke="#2a2a2a" stroke-width="0.8"/>
<path d="M1025.5 298 L1033 303.5 L1036 308" fill="none" stroke="#2a2a2a" stroke-width="0.8"/>
<path d="M1014.5 305.6 L1016.8 308.8 L1015 309.6 Z" fill="none" stroke="#2a2a2a" stroke-width="0.8"/>
<path d="M1037.9 242.3 L1037.9 310" fill="none" stroke="#2a2a2a" stroke-width="1"/>
<path d="M1084.1 240.6 L1084.1 300 Q1083.6 305.5 1075.8 310.8" fill="none" stroke="#2a2a2a" stroke-width="1.1"/>
<path d="M1050.8 242.3 L1050.8 256.8" fill="none" stroke="#2a2a2a" stroke-width="0.8"/>
<path d="M1062.7 242.3 L1062.7 256.8" fill="none" stroke="#2a2a2a" stroke-width="0.8"/>
<path d="M1037.9 302.4 Q1060 304.6 1084 301.6" fill="none" stroke="#2a2a2a" stroke-width="0.8"/>
<path d="M1014 307.4 Q1050 309 1079.5 307.4" fill="none" stroke="#2a2a2a" stroke-width="0.8"/>
<rect x="1045.6" y="256.9" width="20.5" height="11" rx="5.5" fill="none" stroke="#2a2a2a" stroke-width="1"/>
<rect x="1047.4" y="258.6" width="16.9" height="7.6" rx="3.8" fill="none" stroke="#2a2a2a" stroke-width="0.8"/>
<path d="M1049.2 262.4 L1052.4 262.4" fill="none" stroke="#111" stroke-width="0.8"/>
<path d="M1050.8 260.8 L1050.8 264" fill="none" stroke="#111" stroke-width="0.8"/>
<path d="M1061.1 262.4 L1064.3 262.4" fill="none" stroke="#111" stroke-width="0.8"/>
<path d="M1062.7 260.8 L1062.7 264" fill="none" stroke="#111" stroke-width="0.8"/>
<path d="M1053 256.9 L1060.5 256.9" fill="none" stroke="#999" stroke-width="1.4"/>
<rect x="1045.6" y="288.5" width="20.5" height="11" rx="5.5" fill="none" stroke="#2a2a2a" stroke-width="1"/>
<rect x="1047.4" y="290.2" width="16.9" height="7.6" rx="3.8" fill="none" stroke="#2a2a2a" stroke-width="0.8"/>
<path d="M1049.2 294 L1052.4 294" fill="none" stroke="#111" stroke-width="0.8"/>
<path d="M1050.8 292.4 L1050.8 295.6" fill="none" stroke="#111" stroke-width="0.8"/>
<path d="M1061.1 294 L1064.3 294" fill="none" stroke="#111" stroke-width="0.8"/>
<path d="M1062.7 292.4 L1062.7 295.6" fill="none" stroke="#111" stroke-width="0.8"/>
<path d="M1053 288.5 L1060.5 288.5" fill="none" stroke="#999" stroke-width="1.4"/>
<path d="M1044.3 276.5 L1044.3 348" fill="none" stroke="#222" stroke-width="0.8" stroke-dasharray="6 2"/>
<path d="M1013.2 310.4 L1075.8 310.4 M1013.2 310.4 L1013.2 325.4 L1075.8 325.4 L1075.8 310.4" fill="none" stroke="#2a2a2a" stroke-width="1"/>
<path d="M1013.2 313.4 L1075.8 313.4" fill="none" stroke="#2a2a2a" stroke-width="0.7"/>
<path d="M1019.3 325.4 L1019.3 332.6 M1070.6 325.4 L1070.6 332.6" fill="none" stroke="#2a2a2a" stroke-width="0.9"/>
<path d="M1013.2 377.8 L1013.2 332.6 L1075.8 332.6 L1075.8 377.8" fill="none" stroke="#2a2a2a" stroke-width="1"/>
<path d="M1076.4 327.5 L1076.4 336" fill="none" stroke="#111" stroke-width="1.6"/>
<circle cx="1077" cy="335.2" r="0.9" fill="#111" stroke="#111" stroke-width="0.6"/>
<path d="M1036.2 251.2 L1114.6 251.2" fill="none" stroke="#222" stroke-width="0.9"/>
<polygon points="1050.8,251.2 1036.2,253.3 1036.2,249.1" fill="#000"/>
<polygon points="1062.7,251.2 1078.2,249.1 1078.2,253.3" fill="#000"/>
<text transform="translate(1107.2 248.9)" font-family="Liberation Serif, serif" font-size="22" text-anchor="middle" textLength="13.6" lengthAdjust="spacingAndGlyphs" fill="#111" stroke="#111" stroke-width="0.4">30</text>
<path d="M1043.3 276.7 L1158.9 185.6" fill="none" stroke="#222" stroke-width="0.9"/>
<polygon points="1062.3,261.8 1050.3,274.1 1047.6,270.6" fill="#000"/>
<polygon points="1065.1,259.6 1076.3,248 1079,251.5" fill="#000"/>
<g transform="translate(1098.4 231.2) rotate(-38.2)">
<text transform="translate(0 0)" font-family="Liberation Serif, serif" font-size="22" text-anchor="start" textLength="48.5" lengthAdjust="spacingAndGlyphs" fill="#111" stroke="#111" stroke-width="0.4">4-M6-6H</text>
<path d="M49.5 -13.4 L59.5 -13.4" fill="none" stroke="#111" stroke-width="1.9"/>
<path d="M50.8 -9.4 L54.5 -1 L58.2 -9.4 M54.5 -13.2 L54.5 -1" fill="none" stroke="#111" stroke-width="1.1"/>
<polygon points="54.5,-0.5 52.2,-7.5 56.8,-7.5" fill="#000"/>
<text transform="translate(61.5 0)" font-family="Liberation Serif, serif" font-size="22" text-anchor="start" textLength="13" lengthAdjust="spacingAndGlyphs" fill="#111" stroke="#111" stroke-width="0.4">14</text>
</g>
<path d="M1085.1 246.7 L1085.1 300.5" fill="none" stroke="#222" stroke-width="0.9"/>
<path d="M1064.4 262.3 L1136.7 262.3" fill="none" stroke="#222" stroke-width="0.9"/>
<path d="M1066.4 294.5 L1136.2 294.5" fill="none" stroke="#222" stroke-width="0.9"/>
<path d="M1128.6 237.8 L1128.6 318.2" fill="none" stroke="#222" stroke-width="0.9"/>
<polygon points="1128.6,262.3 1126.5,246.8 1130.7,246.8" fill="#000"/>
<polygon points="1128.6,294.5 1130.7,310 1126.5,310" fill="#000"/>
<text transform="translate(1125.8 278.8) rotate(-90)" font-family="Liberation Serif, serif" font-size="22" text-anchor="middle" textLength="13.6" lengthAdjust="spacingAndGlyphs" fill="#111" stroke="#111" stroke-width="0.4">80</text>
<path d="M1080.6 292.6 L1084.2 296.4 M1084.2 292.6 L1080.6 296.4 M1080 294.5 L1085 294.5" fill="none" stroke="#111" stroke-width="1"/>
<path d="M1075.8 338.7 L1123 338.7" fill="none" stroke="#222" stroke-width="0.9"/>
<path d="M1075.8 342.2 L1123 342.2" fill="none" stroke="#222" stroke-width="0.9"/>
<path d="M1114.7 304.9 L1114.7 366.4" fill="none" stroke="#222" stroke-width="0.9"/>
<polygon points="1114.7,338.7 1112.6,323.2 1116.8,323.2" fill="#000"/>
<polygon points="1114.7,342.2 1116.8,357.7 1112.6,357.7" fill="#000"/>
<text transform="translate(1111.4 311) rotate(-90)" font-family="Liberation Serif, serif" font-size="22" text-anchor="middle" textLength="12.6" lengthAdjust="spacingAndGlyphs" fill="#111" stroke="#111" stroke-width="0.4">10</text>
<path d="M904 370.5 L1099.3 370.5" fill="none" stroke="#222" stroke-width="0.9"/>
<polygon points="1013.2,370.5 997.7,372.6 997.7,368.4" fill="#000"/>
<polygon points="1075.8,370.5 1091.8,368.4 1091.8,372.6" fill="#000"/>
<g transform="translate(904.2 365.4)">
<ellipse cx="4.9" cy="-4.5" rx="3.9" ry="4.1" fill="none" stroke="#111" stroke-width="1.1"/>
<path d="M0.2 0.6 L9.7 -9.8" stroke="#111" stroke-width="0.9900000000000001" fill="none"/>
</g>
<text transform="translate(914.2 365.4)" font-family="Liberation Serif, serif" font-size="22" text-anchor="start" textLength="34.3" lengthAdjust="spacingAndGlyphs" fill="#111" stroke="#111" stroke-width="0.4">155H7</text>
<text transform="translate(951.2 363)" font-family="Liberation Serif, serif" font-size="21" text-anchor="start" textLength="4.6" lengthAdjust="spacingAndGlyphs" fill="#111" stroke="#111" stroke-width="0.4">(</text>
<text transform="translate(957.7 354.2)" font-family="Liberation Serif, serif" font-size="12" text-anchor="start" textLength="12.5" lengthAdjust="spacingAndGlyphs" fill="#111" stroke="#111" stroke-width="0.25">+0.</text>
<text transform="translate(973.5 354.2)" font-family="Liberation Serif, serif" font-size="12" text-anchor="start" textLength="9.8" lengthAdjust="spacingAndGlyphs" fill="#111" stroke="#111" stroke-width="0.25">04</text>
<text transform="translate(962.8 365.4)" font-family="Liberation Serif, serif" font-size="12" text-anchor="start" textLength="4.4" lengthAdjust="spacingAndGlyphs" fill="#111" stroke="#111" stroke-width="0.25">0</text>
<text transform="translate(986 363)" font-family="Liberation Serif, serif" font-size="21" text-anchor="start" textLength="4.6" lengthAdjust="spacingAndGlyphs" fill="#111" stroke="#111" stroke-width="0.4">)</text>
<path d="M667.6 399.1 L712.4 399.1 M667.6 399.1 Q657 417 653.6 435 Q650 455 649.3 472 Q649 500 654 516 L660.2 534" fill="none" stroke="#1c1c1c" stroke-width="1.2"/>
<path d="M750.4 403.6 L808.5 403.6 L807.8 414 L806 440 L804.4 470 Q804 500 804.2 525" fill="none" stroke="#222" stroke-width="1.2"/>
<path d="M805.6 403.6 L805.6 417.7" fill="none" stroke="#2a2a2a" stroke-width="0.8"/>
<path d="M713.1 385.7 L713.1 399" fill="none" stroke="#2a2a2a" stroke-width="0.9"/>
<path d="M746.8 389 L746.8 402" fill="none" stroke="#2a2a2a" stroke-width="0.9"/>
<path d="M717 389.5 L717 398" fill="none" stroke="#2a2a2a" stroke-width="0.8"/>
<path d="M717 398 L746.8 398" fill="none" stroke="#2a2a2a" stroke-width="0.8"/>
<path d="M713.1 399.2 L741 399.2" fill="none" stroke="#2a2a2a" stroke-width="0.9"/>
<path d="M712.3 399.1 L712.3 420.6 L738 420.6" fill="none" stroke="#2a2a2a" stroke-width="1"/>
<circle cx="729.3" cy="417.3" r="3.4" fill="none" stroke="#2a2a2a" stroke-width="1"/>
<circle cx="729.3" cy="417.3" r="1.6" fill="#888" stroke="#222" stroke-width="1.2"/>
<path d="M721.4 421.4 L737.3 421.4 L737.3 424.2 L721.4 424.2 Z M726.4 424.2 L726.4 426.4 L733 426.4 L733 424.2" fill="none" stroke="#2a2a2a" stroke-width="0.9"/>
<path d="M741 403.9 L783 403.9 M741 417.8 L778.5 417.8" fill="none" stroke="#2a2a2a" stroke-width="1"/>
<path d="M744.6 404.7 L782 404.7 M744.6 416.4 L779 416.4" fill="none" stroke="#555" stroke-width="0.7"/>
<ellipse cx="741.2" cy="410.9" rx="3.6" ry="7" fill="none" stroke="#2a2a2a" stroke-width="1"/>
<path d="M741 403.9 Q744.5 401.4 747.5 402.4 Q749 403.2 750.4 403.6" fill="none" stroke="#2a2a2a" stroke-width="0.9"/>
<path d="M741 417.8 Q744.5 420.3 747.5 419.6" fill="none" stroke="#2a2a2a" stroke-width="0.9"/>
<path d="M744.6 404.7 L744.6 416.4" fill="none" stroke="#2a2a2a" stroke-width="0.8"/>
<path d="M799.1 403.9 Q795 424 784 437 Q774.5 448.5 760 451 L653 451.1" fill="none" stroke="#2a2a2a" stroke-width="1"/>
<path d="M783.1 404.6 Q781 418 773 427 Q766 434.5 755 435.2 L653.8 435.1" fill="none" stroke="#2a2a2a" stroke-width="1"/>
<path d="M725.6 435.1 Q722.5 443 725.6 451.1" fill="none" stroke="#2a2a2a" stroke-width="0.8"/>
<path d="M754 435.2 Q751.5 443 754.5 451.1" fill="none" stroke="#2a2a2a" stroke-width="0.8"/>
<path d="M799.1 414.8 L805.6 414.8" fill="none" stroke="#2a2a2a" stroke-width="0.8"/>
<path d="M799.1 417.7 L805.6 417.7" fill="none" stroke="#2a2a2a" stroke-width="1"/>
<path d="M665.4 402.5 L665.4 434.4" fill="none" stroke="#2a2a2a" stroke-width="0.8"/>
<path d="M667.6 399.5 L667.6 434.4" fill="none" stroke="#2a2a2a" stroke-width="0.9"/>
<path d="M654.5 431.5 L667.6 431.5" fill="none" stroke="#444" stroke-width="1.3"/>
<path d="M654 433.9 L676.3 433.9" fill="none" stroke="#2a2a2a" stroke-width="0.8"/>
<rect x="664" y="451.8" width="10.2" height="8" rx="0" fill="none" stroke="#2a2a2a" stroke-width="0.9"/>
<rect x="675.6" y="451.8" width="7.4" height="8" rx="0" fill="none" stroke="#2a2a2a" stroke-width="0.9"/>
<circle cx="667.2" cy="456.2" r="0.6" fill="#111" stroke="#111" stroke-width="0.5"/>
<circle cx="670.6" cy="456.2" r="0.6" fill="#111" stroke="#111" stroke-width="0.5"/>
<path d="M650.5 457.4 L654.5 457.4 L654.5 462.6 M659 462.6 L659 458.2 L664 458.2" fill="none" stroke="#2a2a2a" stroke-width="0.8"/>
<path d="M665.5 459.8 L668.5 463.8 L674 463.8 M676.5 459.8 L678 463.6 L681.5 463.6 L682.5 459.8" fill="none" stroke="#2a2a2a" stroke-width="0.8"/>
<path d="M649.6 464.2 Q720 468.5 805 464.8" fill="none" stroke="#2a2a2a" stroke-width="0.9"/>
<path d="M650 467.4 Q720 470.4 805 467.6" fill="none" stroke="#2a2a2a" stroke-width="0.8"/>
<path d="M682 474.6 L703 474.8 M757 475.6 Q780 475 804.6 473.2" fill="none" stroke="#2a2a2a" stroke-width="0.8"/>
<path d="M649.4 471.8 L662 472.2" fill="none" stroke="#2a2a2a" stroke-width="0.8"/>
<path d="M672 488.2 Q720 489.6 760 488.4 Q785 487.6 804.5 489" fill="none" stroke="#2a2a2a" stroke-width="0.8"/>
<path d="M672 501.2 Q700 501.8 730 501.2 Q775 499.6 803.8 501.6" fill="none" stroke="#2a2a2a" stroke-width="0.8"/>
<path d="M686 505.6 Q700 507.4 706 508.4 M752.5 510.6 Q780 509 803 512.4" fill="none" stroke="#2a2a2a" stroke-width="0.8"/>
<path d="M688 510.2 Q697 512.4 706 514 M752 517.4 Q780 515.6 802.6 517.6" fill="none" stroke="#2a2a2a" stroke-width="0.8"/>
<path d="M683 513.6 Q700 519 716 522 Q740 525.8 762 525.6 Q785 525.2 804.6 524.8" fill="none" stroke="#1c1c1c" stroke-width="1.2"/>
<path d="M711.6 486.4 Q713.6 494 711.6 502 M718 486.4 Q716 494 718 502" fill="none" stroke="#2a2a2a" stroke-width="0.8"/>
<path d="M708.5 482.9 Q705.2 479.3 705.9 474.3 Q706.7 467.9 714.7 467.5 Q722.7 467.9 723.5 474.3 Q724.2 479.3 720.9 482.9 Q714.7 486.8 708.5 482.9 Z" fill="none" stroke="#2a2a2a" stroke-width="0.9"/>
<path d="M712.9 483.3 L712.9 478.5 Q709.5 476.3 710.1 473.3 Q711.1 469.5 714.7 469.4 Q718.3 469.5 719.3 473.3 Q719.9 476.3 716.5 478.5 L716.5 483.3" fill="none" stroke="#1c1c1c" stroke-width="1.3"/>
<path d="M708.1 475.8 Q707.9 480.3 711.2 481.9 M721.3 475.8 Q721.5 480.3 718.2 481.9" fill="none" stroke="#2a2a2a" stroke-width="0.8"/>
<path d="M713.1 474.3 L714.7 472.7 L716.3 474.3 L714.7 475.9 Z" fill="none" stroke="#111" stroke-width="0.7"/>
<path d="M736.4 482.9 Q733.1 479.3 733.8 474.3 Q734.6 467.9 742.6 467.5 Q750.6 467.9 751.4 474.3 Q752.1 479.3 748.8 482.9 Q742.6 486.8 736.4 482.9 Z" fill="none" stroke="#2a2a2a" stroke-width="0.9"/>
<path d="M740.8 483.3 L740.8 478.5 Q737.4 476.3 738 473.3 Q739 469.5 742.6 469.4 Q746.2 469.5 747.2 473.3 Q747.8 476.3 744.4 478.5 L744.4 483.3" fill="none" stroke="#1c1c1c" stroke-width="1.3"/>
<path d="M736 475.8 Q735.8 480.3 739.1 481.9 M749.2 475.8 Q749.4 480.3 746.1 481.9" fill="none" stroke="#2a2a2a" stroke-width="0.8"/>
<path d="M741 474.3 L742.6 472.7 L744.2 474.3 L742.6 475.9 Z" fill="none" stroke="#111" stroke-width="0.7"/>
<path d="M708.5 505.4 Q705.2 509 705.9 514 Q706.7 520.4 714.7 520.8 Q722.7 520.4 723.5 514 Q724.2 509 720.9 505.4 Q714.7 501.5 708.5 505.4 Z" fill="none" stroke="#2a2a2a" stroke-width="0.9"/>
<path d="M712.9 505 L712.9 509.8 Q709.5 512 710.1 515 Q711.1 518.8 714.7 518.9 Q718.3 518.8 719.3 515 Q719.9 512 716.5 509.8 L716.5 505" fill="none" stroke="#1c1c1c" stroke-width="1.3"/>
<path d="M708.1 512.5 Q707.9 508 711.2 506.4 M721.3 512.5 Q721.5 508 718.2 506.4" fill="none" stroke="#2a2a2a" stroke-width="0.8"/>
<path d="M713.1 514 L714.7 512.4 L716.3 514 L714.7 515.6 Z" fill="none" stroke="#111" stroke-width="0.7"/>
<path d="M736.4 505.4 Q733.1 509 733.8 514 Q734.6 520.4 742.6 520.8 Q750.6 520.4 751.4 514 Q752.1 509 748.8 505.4 Q742.6 501.5 736.4 505.4 Z" fill="none" stroke="#2a2a2a" stroke-width="0.9"/>
<path d="M740.8 505 L740.8 509.8 Q737.4 512 738 515 Q739 518.8 742.6 518.9 Q746.2 518.8 747.2 515 Q747.8 512 744.4 509.8 L744.4 505" fill="none" stroke="#1c1c1c" stroke-width="1.3"/>
<path d="M736 512.5 Q735.8 508 739.1 506.4 M749.2 512.5 Q749.4 508 746.1 506.4" fill="none" stroke="#2a2a2a" stroke-width="0.8"/>
<path d="M741 514 L742.6 512.4 L744.2 514 L742.6 515.6 Z" fill="none" stroke="#111" stroke-width="0.7"/>
<path d="M714.7 474 L714.7 575" fill="none" stroke="#222" stroke-width="0.9"/>
<path d="M742.6 474 L742.6 575" fill="none" stroke="#222" stroke-width="0.9"/>
<path d="M691.5 566.9 L767.5 566.9" fill="none" stroke="#222" stroke-width="0.9"/>
<polygon points="714.7,566.9 698.2,569 698.2,564.8" fill="#000"/>
<polygon points="742.6,566.9 758.6,564.8 758.6,569" fill="#000"/>
<text transform="translate(729.2 564.2)" font-family="Liberation Serif, serif" font-size="22" text-anchor="middle" textLength="13.6" lengthAdjust="spacingAndGlyphs" fill="#111" stroke="#111" stroke-width="0.4">70</text>
<path d="M691.3 450.2 L691.3 538.2" fill="none" stroke="#222" stroke-width="0.9"/>
<polygon points="691.3,466.4 689.5,457.4 693.1,457.4" fill="#000"/>
<polygon points="691.3,520 693.3,534.5 689.3,534.5" fill="#000"/>
<path d="M693 465.2 L704 464.6" fill="none" stroke="#333" stroke-width="1.2"/>
<text transform="translate(688.3 493.6) rotate(-90)" font-family="Liberation Serif, serif" font-size="22" text-anchor="middle" textLength="18.6" lengthAdjust="spacingAndGlyphs" fill="#111" stroke="#111" stroke-width="0.4">100</text>
<circle cx="646.5" cy="483.5" r="2.1" fill="none" stroke="#111" stroke-width="1.3"/>
<circle cx="646.5" cy="483.5" r="0.7" fill="#111" stroke="#111" stroke-width="0.6"/>
<circle cx="665.3" cy="483.5" r="2.1" fill="none" stroke="#111" stroke-width="1.3"/>
<circle cx="665.3" cy="483.5" r="0.7" fill="#111" stroke="#111" stroke-width="0.6"/>
<circle cx="665.3" cy="508.2" r="2.1" fill="none" stroke="#111" stroke-width="1.3"/>
<circle cx="665.3" cy="508.2" r="0.7" fill="#111" stroke="#111" stroke-width="0.6"/>
<rect x="662.2" y="476.8" width="8.6" height="35" rx="2.5" fill="none" stroke="#2a2a2a" stroke-width="0.9"/>
<path d="M645.4 486 Q648 495 646 504.6 M648.6 486 Q651.4 495 649.2 504.6 M663.2 486.5 Q666 496 663.8 505.6 M667.2 486.5 Q669.6 496 667.6 505.6" fill="none" stroke="#2a2a2a" stroke-width="0.8"/>
<path d="M643.5 504.8 L651.5 504.8" fill="none" stroke="#2a2a2a" stroke-width="0.8"/>
<path d="M644 483.5 L644 488" fill="none" stroke="#2a2a2a" stroke-width="0.8"/>
<path d="M660.2 534 Q682 524 689.2 502.6 M656.6 525.5 Q676 517.5 682.5 503.4 M658.4 529.8 Q679 521 686 503" fill="none" stroke="#2a2a2a" stroke-width="0.9"/>
<path d="M654.6 518 L661.4 512 M655.6 521.6 L664.6 513.4 M657.4 524.2 L668 514.6" fill="none" stroke="#2a2a2a" stroke-width="0.9"/>
<path d="M651 537.4 L653.2 537.4" fill="none" stroke="#333" stroke-width="1"/>
<path d="M722.1 484.3 L835.6 429.3" fill="none" stroke="#222" stroke-width="0.9"/>
<polygon points="741,475.1 726.7,484.5 724.7,480.5" fill="#000"/>
<path d="M752.4 469.4 L759.4 466" fill="none" stroke="#111" stroke-width="2.2"/>
<g transform="translate(775.2 455.4) rotate(-25.9)">
<text transform="translate(0 0)" font-family="Liberation Serif, serif" font-size="22" text-anchor="start" textLength="36.5" lengthAdjust="spacingAndGlyphs" fill="#111" stroke="#111" stroke-width="0.4">4-M12</text>
<path d="M37.5 -13.4 L47.5 -13.4" fill="none" stroke="#111" stroke-width="1.9"/>
<path d="M38.8 -9.4 L42.5 -1 L46.2 -9.4 M42.5 -13.2 L42.5 -1" fill="none" stroke="#111" stroke-width="1.1"/>
<polygon points="42.5,-0.5 40.2,-7.5 44.8,-7.5" fill="#000"/>
<text transform="translate(50.5 0)" font-family="Liberation Serif, serif" font-size="22" text-anchor="start" textLength="14" lengthAdjust="spacingAndGlyphs" fill="#111" stroke="#111" stroke-width="0.4">24</text>
</g>
<path d="M206.7 432.9 L421.2 432.9" fill="none" stroke="#2a2a2a" stroke-width="1.5"/>
<path d="M213.9 433.6 L213.9 445.6 L224.4 445.6 L224.4 433.6" fill="none" stroke="#1c1c1c" stroke-width="1.2"/>
<path d="M214.5 445.2 L222.5 435.4" fill="none" stroke="#1c1c1c" stroke-width="1.3"/>
<path d="M222.5 436.2 L224.4 436.2" fill="none" stroke="#2a2a2a" stroke-width="0.9"/>
<path d="M223.3 437.6 L224.4 437.6" fill="none" stroke="#777" stroke-width="0.6"/>
<path d="M229.4 433.6 L229.4 445.6 L247.8 445.6 L247.8 433.6" fill="none" stroke="#1c1c1c" stroke-width="1.2"/>
<path d="M230 445.2 L238 435.4" fill="none" stroke="#1c1c1c" stroke-width="1.3"/>
<path d="M238 436.2 L247.8 436.2" fill="none" stroke="#2a2a2a" stroke-width="0.9"/>
<path d="M238.8 437.6 L247.8 437.6" fill="none" stroke="#777" stroke-width="0.6"/>
<path d="M256.1 433.6 L256.1 445.6 L279.4 445.6 L279.4 433.6" fill="none" stroke="#1c1c1c" stroke-width="1.2"/>
<path d="M256.7 445.2 L264.7 435.4" fill="none" stroke="#1c1c1c" stroke-width="1.3"/>
<path d="M264.7 436.2 L279.4 436.2" fill="none" stroke="#2a2a2a" stroke-width="0.9"/>
<path d="M265.5 437.6 L279.4 437.6" fill="none" stroke="#777" stroke-width="0.6"/>
<path d="M289.4 433.6 L289.4 445.6 L314.6 445.6 L314.6 433.6" fill="none" stroke="#1c1c1c" stroke-width="1.2"/>
<path d="M289.4 445.6 L293.4 434.6" fill="none" stroke="#2a2a2a" stroke-width="0.9"/>
<path d="M314.6 445.6 L310.6 434.6" fill="none" stroke="#2a2a2a" stroke-width="0.9"/>
<path d="M295 434 L295 441 Q295.2 442.2 296.4 442.2 L307 442.2 Q308.2 442.2 308.4 441 L308.4 434" fill="none" stroke="#2a2a2a" stroke-width="0.9"/>
<path d="M296.6 434 L296.6 440.4 L306.8 440.4 L306.8 434" fill="none" stroke="#666" stroke-width="0.6"/>
<path d="M324.3 433.6 L324.3 445.6 L348.2 445.6 L348.2 433.6" fill="none" stroke="#1c1c1c" stroke-width="1.2"/>
<path d="M347.6 445.2 L339.6 435.4" fill="none" stroke="#1c1c1c" stroke-width="1.3"/>
<path d="M339.6 436.2 L324.3 436.2" fill="none" stroke="#2a2a2a" stroke-width="0.9"/>
<path d="M338.8 437.6 L324.3 437.6" fill="none" stroke="#777" stroke-width="0.6"/>
<path d="M355.4 433.6 L355.4 445.6 L374.5 445.6 L374.5 433.6" fill="none" stroke="#1c1c1c" stroke-width="1.2"/>
<path d="M373.9 445.2 L365.9 435.4" fill="none" stroke="#1c1c1c" stroke-width="1.3"/>
<path d="M365.9 436.2 L355.4 436.2" fill="none" stroke="#2a2a2a" stroke-width="0.9"/>
<path d="M365.1 437.6 L355.4 437.6" fill="none" stroke="#777" stroke-width="0.6"/>
<path d="M379.3 433.6 L379.3 445.6 L391.3 445.6 L391.3 433.6" fill="none" stroke="#1c1c1c" stroke-width="1.2"/>
<path d="M390.7 445.2 L382.7 435.4" fill="none" stroke="#1c1c1c" stroke-width="1.3"/>
<path d="M382.7 436.2 L379.3 436.2" fill="none" stroke="#2a2a2a" stroke-width="0.9"/>
<path d="M381.9 437.6 L379.3 437.6" fill="none" stroke="#777" stroke-width="0.6"/>
<path d="M397.3 433.9 L397.3 453.4 Q397.4 454.7 398.7 454.7 L415 454.7 Q416.4 454.7 416.4 453.4 L416.4 433.9" fill="none" stroke="#2a2a2a" stroke-width="1"/>
<path d="M397.3 452.4 L416.4 452.4" fill="none" stroke="#2a2a2a" stroke-width="0.7"/>
<path d="M212.2 433 L212.2 460.3" fill="none" stroke="#2a2a2a" stroke-width="1"/>
<path d="M392 434.6 L392.5 462 L399.6 525.3" fill="none" stroke="#2a2a2a" stroke-width="1"/>
<path d="M212.2 450.4 L392.3 450.4" fill="none" stroke="#2a2a2a" stroke-width="0.9"/>
<path d="M212.2 460.3 L392.4 460.3" fill="none" stroke="#1c1c1c" stroke-width="1.5"/>
<path d="M216.7 473 L393.7 473" fill="none" stroke="#2a2a2a" stroke-width="0.9"/>
<path d="M226.1 482.8 L341 482.8" fill="none" stroke="#2a2a2a" stroke-width="0.9"/>
<path d="M346 482.8 L385 482.8" fill="none" stroke="#2a2a2a" stroke-width="0.8"/>
<path d="M302 426 L302 556.4" fill="none" stroke="#222" stroke-width="0.8" stroke-dasharray="9 1.5 2 1.5"/>
<path d="M154.5 476.3 L154.5 450.6 M154.5 450.6 Q154.3 449.6 155.6 449.2 M155.6 449.2 L155.6 438 Q155.8 436.8 157 436.8 L174.8 436.8 Q175.9 436.9 175.9 438 L175.9 440" fill="none" stroke="#2a2a2a" stroke-width="1"/>
<path d="M157.2 449.6 L157.2 476.3 M155.6 449.4 L170.5 449.4 L173.6 452.8 L175 440" fill="none" stroke="#2a2a2a" stroke-width="0.9"/>
<rect x="159.9" y="440" width="13.9" height="8.4" rx="2" fill="none" stroke="#2a2a2a" stroke-width="1"/>
<rect x="161.6" y="441.4" width="10.4" height="5.6" rx="1.5" fill="none" stroke="#555" stroke-width="0.7"/>
<path d="M156.4 438.6 L175 438.6" fill="none" stroke="#666" stroke-width="0.6"/>
<path d="M175.9 440 L189.8 440" fill="none" stroke="#2a2a2a" stroke-width="0.9"/>
<path d="M189.8 440 L204.6 440 Q205.8 440 205.8 441.2 L205.8 446.2 Q205.8 447.4 204.6 447.4 L189.8 447.4" fill="none" stroke="#2a2a2a" stroke-width="1"/>
<path d="M195 440 L195 447.4" fill="none" stroke="#2a2a2a" stroke-width="0.8"/>
<path d="M203.4 440 L203.4 447.4" fill="none" stroke="#2a2a2a" stroke-width="0.7"/>
<path d="M189.8 440 L189.8 447.4 M186.6 440 L186.6 464.6 Q186.7 466.6 188.7 466.4 L189.6 466.4 M186.6 463 L189.8 462.4 L211 462.4 Q213.4 462.6 214.4 464 Q215.4 465 215.4 467 L215.4 476.8" fill="none" stroke="#2a2a2a" stroke-width="1"/>
<path d="M189.8 447.4 L189.8 460.6 Q189.9 462.3 188.4 463.6" fill="none" stroke="#2a2a2a" stroke-width="0.9"/>
<path d="M183.2 440 L183.2 477.4" fill="none" stroke="#2a2a2a" stroke-width="0.7"/>
<path d="M184.6 440 L184.6 477.4" fill="none" stroke="#2a2a2a" stroke-width="0.7"/>
<path d="M190 466.4 L211.6 466.4 Q212.8 466.6 212.8 468 L212.8 477.4" fill="none" stroke="#2a2a2a" stroke-width="0.8"/>
<path d="M145.4 477.4 L182 477.4 M143.8 479 L143.8 538.8 Q143.9 540.4 145.4 540.4 L191 540.4 M143.8 479 Q143.9 477.5 145.4 477.4" fill="none" stroke="#2a2a2a" stroke-width="1.1"/>
<path d="M145.4 479.5 L145.4 538.6" fill="none" stroke="#2a2a2a" stroke-width="0.7"/>
<rect x="148.1" y="474.1" width="18.2" height="3.3" rx="0" fill="none" stroke="#2a2a2a" stroke-width="0.9"/>
<path d="M152 474.1 L152 477.4" fill="none" stroke="#2a2a2a" stroke-width="0.6"/>
<path d="M158 474.1 L158 477.4" fill="none" stroke="#2a2a2a" stroke-width="0.6"/>
<path d="M166.3 477.4 L166.3 540.4 M164.4 479.4 Q166.2 477.8 166.3 477.4" fill="none" stroke="#2a2a2a" stroke-width="0.9"/>
<path d="M171 540.4 L171 480.6 Q170.6 478 168.4 477.4" fill="none" stroke="#2a2a2a" stroke-width="0.9"/>
<path d="M181.2 477.4 L181.2 540.4" fill="none" stroke="#2a2a2a" stroke-width="0.9"/>
<path d="M184.4 477.4 L184.4 540.4" fill="none" stroke="#2a2a2a" stroke-width="0.9"/>
<path d="M188.7 477.4 L188.7 524.5" fill="none" stroke="#2a2a2a" stroke-width="0.9"/>
<path d="M143.8 536.6 L184.4 536.6" fill="none" stroke="#2a2a2a" stroke-width="0.7"/>
<path d="M182 477.4 L220.5 477.4 Q225.8 477.6 226.1 483 L217.6 524.4" fill="none" stroke="#2a2a2a" stroke-width="1"/>
<path d="M215.4 479.2 L220 479.2 Q223.8 479.6 224 483 L216 522.2" fill="none" stroke="#2a2a2a" stroke-width="0.8"/>
<path d="M247 522.9 L195.6 522.9 Q191.3 523.2 191.1 527 L191.1 537.6 Q191.3 541.5 195.6 541.7 L245.3 541.7" fill="none" stroke="#2a2a2a" stroke-width="1.1"/>
<path d="M246.9 526.3 L198.4 526.3 Q195.6 526.5 195.4 529.2 L195.4 537 Q195.6 539.8 198.4 540 L245 540" fill="none" stroke="#2a2a2a" stroke-width="0.9"/>
<path d="M197.1 526.3 L197.1 541.7" fill="none" stroke="#2a2a2a" stroke-width="0.8"/>
<path d="M208.3 526.3 L208.3 541.7" fill="none" stroke="#2a2a2a" stroke-width="0.8"/>
<path d="M214.3 526.3 L214.3 541.7" fill="none" stroke="#2a2a2a" stroke-width="0.8"/>
<path d="M234 526.3 L234 541.7" fill="none" stroke="#2a2a2a" stroke-width="0.8"/>
<path d="M245.1 526.3 L245.1 541.7" fill="none" stroke="#2a2a2a" stroke-width="0.8"/>
<rect x="202.3" y="524.6" width="5.1" height="1.7" rx="0" fill="none" stroke="#2a2a2a" stroke-width="0.7"/>
<path d="M197 543.2 L245 543.2" fill="none" stroke="#555" stroke-width="0.7"/>
<path d="M245.1 537.4 L248.6 534.9 L354.9 534.9 L358.3 537.4" fill="none" stroke="#2a2a2a" stroke-width="1"/>
<path d="M265.7 536.6 L337.7 536.6" fill="none" stroke="#555" stroke-width="0.7"/>
<path d="M245.1 540.2 L358.3 540.2" fill="none" stroke="#222" stroke-width="1.3"/>
<path d="M258.6 479 L248.6 521.5" fill="none" stroke="#2a2a2a" stroke-width="1.0"/>
<path d="M261 480.2 L251 521.5" fill="none" stroke="#2a2a2a" stroke-width="0.8"/>
<path d="M263.4 479 L253.4 521.5" fill="none" stroke="#2a2a2a" stroke-width="1.0"/>
<path d="M258.6 479 Q259 477.2 261 477.2 Q263.2 477.2 263.4 479" fill="none" stroke="#2a2a2a" stroke-width="0.9"/>
<path d="M345.8 479 L357.4 521.5" fill="none" stroke="#2a2a2a" stroke-width="1.0"/>
<path d="M343.4 480.2 L355 521.5" fill="none" stroke="#2a2a2a" stroke-width="0.8"/>
<path d="M341 479 L352.6 521.5" fill="none" stroke="#2a2a2a" stroke-width="1.0"/>
<path d="M345.8 479 Q345.4 477.2 343.4 477.2 Q341.2 477.2 341 479" fill="none" stroke="#2a2a2a" stroke-width="0.9"/>
<path d="M388.8 479 L399.8 521.5" fill="none" stroke="#2a2a2a" stroke-width="1.0"/>
<path d="M386.4 480.2 L397.4 521.5" fill="none" stroke="#2a2a2a" stroke-width="0.8"/>
<path d="M384 479 L395 521.5" fill="none" stroke="#2a2a2a" stroke-width="1.0"/>
<path d="M388.8 479 Q388.4 477.2 386.4 477.2 Q384.2 477.2 384 479" fill="none" stroke="#2a2a2a" stroke-width="0.9"/>
<path d="M248.6 521.5 Q247.4 525.4 243.5 525.6 M253.4 521.5 Q252 528 247 528.4" fill="none" stroke="#2a2a2a" stroke-width="0.8"/>
<path d="M357.4 521.5 Q358.6 525.8 362.5 526.3 M352.6 521.5 Q354 526 358.3 526.3" fill="none" stroke="#2a2a2a" stroke-width="0.8"/>
<path d="M260.6 483 L258 535" fill="none" stroke="#2a2a2a" stroke-width="0.7"/>
<path d="M343.4 483 L344.8 535" fill="none" stroke="#2a2a2a" stroke-width="0.7"/>
<path d="M358.3 526.3 L406.6 526.3 Q408.9 526.4 408.9 528.8 L408.9 538.6 Q408.9 540.9 406.6 540.9 L358.3 540.9" fill="none" stroke="#2a2a2a" stroke-width="1.1"/>
<path d="M358.3 526.3 L358.3 540.9" fill="none" stroke="#2a2a2a" stroke-width="0.9"/>
<path d="M358.3 522.9 L385.7 522.9" fill="none" stroke="#666" stroke-width="0.6"/>
<path d="M359.6 526.3 L359.6 540.9" fill="none" stroke="#2a2a2a" stroke-width="0.8"/>
<path d="M369.4 526.3 L369.4 540.9" fill="none" stroke="#2a2a2a" stroke-width="0.8"/>
<path d="M390 526.3 L390 540.9" fill="none" stroke="#2a2a2a" stroke-width="0.8"/>
<path d="M394.3 526.3 L394.3 540.9" fill="none" stroke="#2a2a2a" stroke-width="0.8"/>
<path d="M406.3 526.3 L406.3 540.9" fill="none" stroke="#2a2a2a" stroke-width="0.8"/>
<path d="M360 542.6 L407 542.6" fill="none" stroke="#555" stroke-width="0.7"/>
<path d="M129.2 482.8 L131 489 Q127.6 492 127.4 497 Q126.4 500.6 124.8 503 L129.6 502.6 L130.4 506 L132.4 499 Q136 497.6 137 501.6 L139.8 500.2 Q140.2 494.6 136.2 492.4 L134.4 489.6 L131 489" fill="none" stroke="#1c1c1c" stroke-width="1"/>
<path d="M129.2 534.6 L131 528.4 Q127.6 525.4 127.4 520.4 Q126.4 516.8 124.8 514.4 L129.6 514.8 L130.4 511.4 L132.4 518.4 Q136 519.8 137 515.8 L139.8 517.2 Q140.2 522.8 136.2 525 L134.4 527.8 L131 528.4" fill="none" stroke="#1c1c1c" stroke-width="1"/>
<path d="M131.4 503.4 L131.4 514 M133.2 503.4 L133.2 514" fill="none" stroke="#2a2a2a" stroke-width="0.9"/>
<circle cx="132.3" cy="501.6" r="1.3" fill="none" stroke="#111" stroke-width="0.9"/>
<circle cx="132.3" cy="515.8" r="1.3" fill="none" stroke="#111" stroke-width="0.9"/>
<path d="M129.4 482.4 L129.4 484.6" fill="none" stroke="#111" stroke-width="1.4"/>
<path d="M129.4 533 L129.4 535.4" fill="none" stroke="#111" stroke-width="1.4"/>
<path d="M139.8 489.4 L143.8 489.4 M139.8 495 L143.8 495 M139.8 489.4 L139.8 500.4 M139.8 517 L139.8 528 L143.8 528 M139.8 522.4 L143.8 522.4" fill="none" stroke="#2a2a2a" stroke-width="0.8"/>
<path d="M141.6 486.5 L143.8 486.5" fill="none" stroke="#333" stroke-width="1.1"/>
<path d="M141.6 492.2 L143.8 492.2" fill="none" stroke="#333" stroke-width="1.1"/>
<path d="M141.6 503 L143.8 503" fill="none" stroke="#333" stroke-width="1.1"/>
<path d="M141.6 508.5 L143.8 508.5" fill="none" stroke="#333" stroke-width="1.1"/>
<path d="M141.6 514 L143.8 514" fill="none" stroke="#333" stroke-width="1.1"/>
<path d="M141.6 525.2 L143.8 525.2" fill="none" stroke="#333" stroke-width="1.1"/>
<path d="M141.6 531 L143.8 531" fill="none" stroke="#333" stroke-width="1.1"/>
<path d="M409.2 526.5 L458.3 526.5" fill="none" stroke="#222" stroke-width="0.9"/>
<path d="M409.2 542 L458.3 542" fill="none" stroke="#222" stroke-width="0.9"/>
<path d="M450.4 491.8 L450.4 560" fill="none" stroke="#222" stroke-width="0.9"/>
<polygon points="450.4,526.5 448.3,510.5 452.5,510.5" fill="#000"/>
<polygon points="450.4,542 452.5,557 448.3,557" fill="#000"/>
<text transform="translate(447.4 498.4) rotate(-90)" font-family="Liberation Serif, serif" font-size="22" text-anchor="middle" textLength="13.2" lengthAdjust="spacingAndGlyphs" fill="#111" stroke="#111" stroke-width="0.4">39</text>
</svg>
</body></html>
